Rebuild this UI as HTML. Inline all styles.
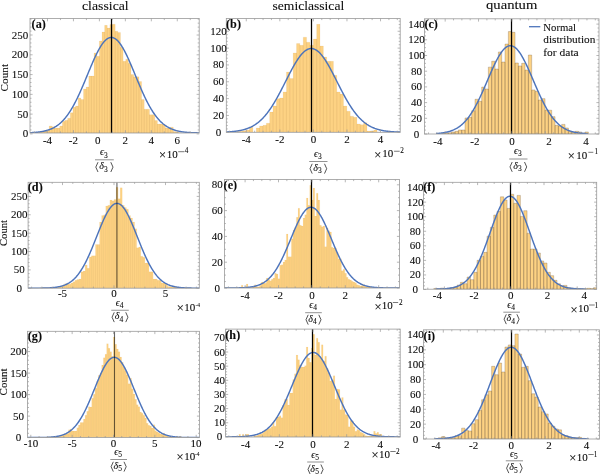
<!DOCTYPE html>
    <html><head><meta charset="utf-8"><style>
    html,body{margin:0;padding:0;background:#fff;}
    svg{display:block;filter:blur(0.3px);}
    text{font-family:"Liberation Serif", serif;fill:#0a0a0a;stroke:#0a0a0a;stroke-width:0.08px;}
    .tl{font-size:11px;}
    .pl{font-size:12.2px;font-weight:bold;}
    .ti{font-size:12.5px;}
    .eps{font-size:10px;font-style:italic;}
    .sb{font-size:7.5px;}
    .tm{font-size:12.5px;}
    .pw{font-size:11px;}
    .sp{font-size:7.2px;}
    .sps{font-size:5.5px;}
    .cnt{font-size:11px;}
    .lg{font-size:11px;}
    </style></head><body>
    <svg width="600" height="474" viewBox="0 0 600 474">
    <rect width="600" height="474" fill="#fff"/>
    <clipPath id="clipa"><rect x="30" y="18.5" width="169.2" height="114.5"/></clipPath>
<g clip-path="url(#clipa)">
<path d="M33.35 133V132.73H35.99V133ZM35.99 133V132.41H38.63V133ZM38.63 133V132.03H41.27V133ZM41.27 133V131.44H43.91V133ZM43.91 133V130.85H46.55V133ZM46.55 133V129.88H49.19V133ZM49.19 133V125.98H51.83V133ZM51.83 133V126.76H54.47V133ZM54.47 133V127.93H57.11V133ZM57.11 133V127.93H59.75V133ZM59.75 133V125.98H62.39V133ZM62.39 133V121.3H65.03V133ZM65.03 133V120.13H67.67V133ZM67.67 133V118.18H70.31V133ZM70.31 133V112.72H72.95V133ZM72.95 133V107.26H75.59V133ZM75.59 133V106.09H78.23V133ZM78.23 133V97.9H80.87V133ZM80.87 133V99.46H83.51V133ZM83.51 133V88.93H86.15V133ZM86.15 133V86.98H88.79V133ZM88.79 133V76.06H91.43V133ZM91.43 133V76.06H94.07V133ZM94.07 133V53.05H96.71V133ZM96.71 133V56.17H99.35V133ZM99.35 133V40.96H101.99V133ZM101.99 133V31.99H104.63V133ZM104.63 133V25.36H107.27V133ZM107.27 133V28.09H109.91V133ZM109.91 133V24.58H112.55V133ZM112.55 133V24.19H115.19V133ZM115.19 133V31.21H117.83V133ZM117.83 133V32.38H120.47V133ZM120.47 133V47.2H123.11V133ZM123.11 133V61.24H125.75V133ZM125.75 133V59.29H128.39V133ZM128.39 133V63.19H131.03V133ZM131.03 133V74.5H133.67V133ZM133.67 133V76.84H136.31V133ZM136.31 133V76.84H138.95V133ZM138.95 133V81.52H141.59V133ZM141.59 133V99.46H144.23V133ZM144.23 133V109.21H146.87V133ZM146.87 133V109.21H149.51V133ZM149.51 133V114.67H152.15V133ZM152.15 133V114.67H154.79V133ZM154.79 133V120.52H157.43V133ZM157.43 133V124.03H160.07V133ZM160.07 133V124.03H162.71V133ZM162.71 133V124.42H165.35V133ZM165.35 133V127.93H167.99V133ZM167.99 133V127.93H170.63V133ZM170.63 133V127.15H173.27V133ZM173.27 133V131.44H175.91V133ZM175.91 133V132.03H178.55V133ZM178.55 133V132.81H181.19V133Z" fill="#fdd283" stroke="rgba(160,120,70,0.15)" stroke-width="0.5"/>
<polyline points="30,132.7 30.5,132.68 31,132.65 31.5,132.63 32,132.6 32.5,132.57 33,132.54 33.5,132.51 34,132.48 34.5,132.44 35,132.4 35.5,132.36 36,132.32 36.5,132.27 37,132.22 37.5,132.17 38,132.12 38.5,132.06 39,132 39.5,131.93 40,131.86 40.5,131.79 41,131.71 41.5,131.63 42,131.55 42.5,131.46 43,131.36 43.5,131.26 44,131.16 44.5,131.05 45,130.93 45.5,130.81 46,130.68 46.5,130.54 47,130.4 47.5,130.25 48,130.1 48.5,129.93 49,129.76 49.5,129.58 50,129.39 50.5,129.19 51,128.99 51.5,128.77 52,128.55 52.5,128.31 53,128.06 53.5,127.81 54,127.54 54.5,127.26 55,126.97 55.5,126.67 56,126.36 56.5,126.03 57,125.69 57.5,125.34 58,124.97 58.5,124.59 59,124.2 59.5,123.79 60,123.37 60.5,122.93 61,122.47 61.5,122 62,121.52 62.5,121.02 63,120.5 63.5,119.96 64,119.41 64.5,118.84 65,118.26 65.5,117.65 66,117.03 66.5,116.39 67,115.73 67.5,115.06 68,114.36 68.5,113.65 69,112.92 69.5,112.17 70,111.4 70.5,110.62 71,109.81 71.5,108.99 72,108.14 72.5,107.28 73,106.4 73.5,105.51 74,104.59 74.5,103.66 75,102.71 75.5,101.74 76,100.76 76.5,99.76 77,98.74 77.5,97.71 78,96.66 78.5,95.6 79,94.52 79.5,93.43 80,92.33 80.5,91.21 81,90.08 81.5,88.95 82,87.8 82.5,86.64 83,85.47 83.5,84.29 84,83.11 84.5,81.92 85,80.72 85.5,79.52 86,78.31 86.5,77.11 87,75.9 87.5,74.69 88,73.48 88.5,72.27 89,71.06 89.5,69.86 90,68.66 90.5,67.47 91,66.29 91.5,65.11 92,63.94 92.5,62.79 93,61.64 93.5,60.51 94,59.39 94.5,58.29 95,57.21 95.5,56.14 96,55.09 96.5,54.06 97,53.05 97.5,52.07 98,51.11 98.5,50.17 99,49.26 99.5,48.37 100,47.52 100.5,46.69 101,45.89 101.5,45.12 102,44.39 102.5,43.69 103,43.02 103.5,42.39 104,41.79 104.5,41.23 105,40.7 105.5,40.21 106,39.76 106.5,39.35 107,38.98 107.5,38.65 108,38.35 108.5,38.1 109,37.89 109.5,37.72 110,37.59 110.5,37.5 111,37.46 111.5,37.45 112,37.49 112.5,37.57 113,37.69 113.5,37.85 114,38.06 114.5,38.3 115,38.58 115.5,38.91 116,39.27 116.5,39.68 117,40.12 117.5,40.6 118,41.12 118.5,41.67 119,42.26 119.5,42.89 120,43.55 120.5,44.25 121,44.98 121.5,45.74 122,46.53 122.5,47.35 123,48.2 123.5,49.08 124,49.98 124.5,50.92 125,51.87 125.5,52.85 126,53.86 126.5,54.88 127,55.93 127.5,56.99 128,58.07 128.5,59.17 129,60.29 129.5,61.42 130,62.56 130.5,63.71 131,64.88 131.5,66.05 132,67.24 132.5,68.43 133,69.62 133.5,70.82 134,72.03 134.5,73.24 135,74.45 135.5,75.66 136,76.86 136.5,78.07 137,79.28 137.5,80.48 138,81.68 138.5,82.87 139,84.05 139.5,85.23 140,86.4 140.5,87.56 141,88.72 141.5,89.86 142,90.99 142.5,92.11 143,93.21 143.5,94.31 144,95.38 144.5,96.45 145,97.5 145.5,98.54 146,99.56 146.5,100.56 147,101.55 147.5,102.52 148,103.47 148.5,104.41 149,105.32 149.5,106.23 150,107.11 150.5,107.97 151,108.82 151.5,109.65 152,110.46 152.5,111.25 153,112.02 153.5,112.77 154,113.51 154.5,114.22 155,114.92 155.5,115.6 156,116.26 156.5,116.91 157,117.53 157.5,118.14 158,118.73 158.5,119.3 159,119.86 159.5,120.39 160,120.92 160.5,121.42 161,121.91 161.5,122.38 162,122.84 162.5,123.28 163,123.71 163.5,124.12 164,124.51 164.5,124.9 165,125.27 165.5,125.62 166,125.96 166.5,126.29 167,126.61 167.5,126.91 168,127.21 168.5,127.49 169,127.76 169.5,128.01 170,128.26 170.5,128.5 171,128.73 171.5,128.94 172,129.15 172.5,129.35 173,129.54 173.5,129.72 174,129.9 174.5,130.06 175,130.22 175.5,130.37 176,130.52 176.5,130.65 177,130.78 177.5,130.91 178,131.02 178.5,131.14 179,131.24 179.5,131.34 180,131.44 180.5,131.53 181,131.62 181.5,131.7 182,131.78 182.5,131.85 183,131.92 183.5,131.98 184,132.05 184.5,132.11 185,132.16 185.5,132.21 186,132.26 186.5,132.31 187,132.35 187.5,132.4 188,132.43 188.5,132.47 189,132.51 189.5,132.54 190,132.57 190.5,132.6 191,132.62 191.5,132.65 192,132.67 192.5,132.7 193,132.72 193.5,132.74 194,132.75 194.5,132.77 195,132.79 195.5,132.8 196,132.82 196.5,132.83 197,132.84 197.5,132.85 198,132.86 198.5,132.87 199,132.88 199.5,132.89 199.7,132.89" fill="none" stroke="#4d74bb" stroke-width="1.45" stroke-linejoin="round"/>
<line x1="111.5" y1="18.5" x2="111.5" y2="133" stroke="#000" stroke-width="1.25"/>
</g>
<rect x="30" y="18.5" width="169.2" height="114.5" fill="none" stroke="#9a9a9a" stroke-width="0.8"/>
<path d="M34.5 133v-1.6M34.5 18.5v1.6M47.48 133v-2.8M47.48 18.5v2.8M60.46 133v-1.6M60.46 18.5v1.6M73.44 133v-2.8M73.44 18.5v2.8M86.42 133v-1.6M86.42 18.5v1.6M99.4 133v-2.8M99.4 18.5v2.8M112.38 133v-1.6M112.38 18.5v1.6M125.36 133v-2.8M125.36 18.5v2.8M138.34 133v-1.6M138.34 18.5v1.6M151.32 133v-2.8M151.32 18.5v2.8M164.3 133v-1.6M164.3 18.5v1.6M177.28 133v-2.8M177.28 18.5v2.8M190.26 133v-1.6M190.26 18.5v1.6M30 133.9h2.6M199.2 133.9h-2.6M30 129.94h1.5M199.2 129.94h-1.5M30 125.99h1.5M199.2 125.99h-1.5M30 122.04h1.5M199.2 122.04h-1.5M30 118.08h1.5M199.2 118.08h-1.5M30 114.12h2.6M199.2 114.12h-2.6M30 110.17h1.5M199.2 110.17h-1.5M30 106.22h1.5M199.2 106.22h-1.5M30 102.26h1.5M199.2 102.26h-1.5M30 98.31h1.5M199.2 98.31h-1.5M30 94.35h2.6M199.2 94.35h-2.6M30 90.4h1.5M199.2 90.4h-1.5M30 86.44h1.5M199.2 86.44h-1.5M30 82.49h1.5M199.2 82.49h-1.5M30 78.53h1.5M199.2 78.53h-1.5M30 74.58h2.6M199.2 74.58h-2.6M30 70.62h1.5M199.2 70.62h-1.5M30 66.67h1.5M199.2 66.67h-1.5M30 62.71h1.5M199.2 62.71h-1.5M30 58.75h1.5M199.2 58.75h-1.5M30 54.8h2.6M199.2 54.8h-2.6M30 50.84h1.5M199.2 50.84h-1.5M30 46.89h1.5M199.2 46.89h-1.5M30 42.94h1.5M199.2 42.94h-1.5M30 38.98h1.5M199.2 38.98h-1.5M30 35.03h2.6M199.2 35.03h-2.6M30 31.07h1.5M199.2 31.07h-1.5M30 27.11h1.5M199.2 27.11h-1.5M30 23.16h1.5M199.2 23.16h-1.5M30 19.2h1.5M199.2 19.2h-1.5" stroke="#9a9a9a" stroke-width="0.7" fill="none"/>
<text x="47.48" y="143.9" text-anchor="middle" class="tl">-4</text>
<text x="73.44" y="143.9" text-anchor="middle" class="tl">-2</text>
<text x="97.8" y="143.9" text-anchor="middle" class="tl">0</text>
<text x="125.36" y="143.9" text-anchor="middle" class="tl">2</text>
<text x="151.32" y="143.9" text-anchor="middle" class="tl">4</text>
<text x="177.28" y="143.9" text-anchor="middle" class="tl">6</text>
<text x="28.3" y="137.4" text-anchor="end" class="tl">0</text>
<text x="28.3" y="117.62" text-anchor="end" class="tl">50</text>
<text x="28.3" y="97.85" text-anchor="end" class="tl">100</text>
<text x="28.3" y="78.08" text-anchor="end" class="tl">150</text>
<text x="28.3" y="58.3" text-anchor="end" class="tl">200</text>
<text x="28.3" y="38.53" text-anchor="end" class="tl">250</text>
<text x="31.6" y="27.6" class="pl">(a)</text>
<text x="100.1" y="155.4" class="eps">ϵ</text>
<text x="104.1" y="157.5" class="sb">3</text>
<line x1="95" y1="159.8" x2="113.8" y2="159.8" stroke="#777" stroke-width="0.8"/>
<path d="M98 162.2L95.8 167.1L98 172M110.8 162.2L113 167.1L110.8 172" fill="none" stroke="#0a0a0a" stroke-width="0.7"/>
<text x="99.2" y="169.2" class="eps">δ</text>
<text x="104" y="171.5" class="sb">3</text>
<text x="162.5" y="158.76" text-anchor="middle" class="tm">×</text>
<text x="166.83" y="157.6" class="pw">10</text>
<line x1="178.2" y1="151.7" x2="184.3" y2="151.7" stroke="#0a0a0a" stroke-width="0.55"/>
<text x="184.66" y="153.1" class="sp">4</text>
<text transform="translate(8.4,77.7) rotate(-90)" text-anchor="middle" class="cnt" textLength="27.4" lengthAdjust="spacingAndGlyphs">Count</text>
<clipPath id="clipb"><rect x="226.3" y="18.5" width="173.9" height="113.8"/></clipPath>
<g clip-path="url(#clipb)">
<path d="M236.11 132.3V131.63H239.47V132.3ZM239.47 132.3V131.37H242.82V132.3ZM242.82 132.3V130.7H246.18V132.3ZM246.18 132.3V130.03H249.54V132.3ZM249.54 132.3V127.33H252.89V132.3ZM256.25 132.3V128.01H259.6V132.3ZM259.6 132.3V125.99H262.96V132.3ZM262.96 132.3V125.31H266.32V132.3ZM266.32 132.3V123.29H269.67V132.3ZM269.67 132.3V112.01H273.03V132.3ZM273.03 132.3V106.03H276.38V132.3ZM276.38 132.3V98.7H279.74V132.3ZM279.74 132.3V98.03H283.1V132.3ZM283.1 132.3V91.97H286.45V132.3ZM286.45 132.3V72.01H289.81V132.3ZM289.81 132.3V78.41H293.16V132.3ZM293.16 132.3V52.9H296.52V132.3ZM296.52 132.3V43.55H299.88V132.3ZM299.88 132.3V45.32H303.23V132.3ZM303.23 132.3V37.15H306.59V132.3ZM306.59 132.3V42.29H309.94V132.3ZM309.94 132.3V45.32H313.3V132.3ZM313.3 132.3V39.09H316.66V132.3ZM316.66 132.3V24.36H320.01V132.3ZM320.01 132.3V46H323.37V132.3ZM323.37 132.3V56.94H326.72V132.3ZM326.72 132.3V61.32H330.08V132.3ZM330.08 132.3V61.32H333.44V132.3ZM333.44 132.3V75.3H336.79V132.3ZM336.79 132.3V91.97H340.15V132.3ZM340.15 132.3V93.99H343.5V132.3ZM343.5 132.3V106.03H346.86V132.3ZM346.86 132.3V111.33H350.22V132.3ZM350.22 132.3V116.13H353.57V132.3ZM353.57 132.3V117.31H356.93V132.3ZM356.93 132.3V123.96H360.28V132.3ZM360.28 132.3V124.64H363.64V132.3ZM363.64 132.3V122.7H367V132.3ZM367 132.3V131.04H370.35V132.3ZM370.35 132.3V131.04H373.71V132.3ZM373.71 132.3V130.03H377.06V132.3ZM377.06 132.3V132.05H380.42V132.3Z" fill="#fdd283" stroke="rgba(160,120,70,0.15)" stroke-width="0.5"/>
<polyline points="226.3,131.95 226.8,131.93 227.3,131.9 227.8,131.87 228.3,131.85 228.8,131.82 229.3,131.79 229.8,131.75 230.3,131.72 230.8,131.68 231.3,131.64 231.8,131.6 232.3,131.56 232.8,131.51 233.3,131.47 233.8,131.42 234.3,131.36 234.8,131.31 235.3,131.25 235.8,131.18 236.3,131.12 236.8,131.05 237.3,130.98 237.8,130.9 238.3,130.82 238.8,130.74 239.3,130.65 239.8,130.56 240.3,130.46 240.8,130.36 241.3,130.25 241.8,130.14 242.3,130.03 242.8,129.9 243.3,129.78 243.8,129.64 244.3,129.5 244.8,129.36 245.3,129.21 245.8,129.05 246.3,128.89 246.8,128.71 247.3,128.53 247.8,128.35 248.3,128.15 248.8,127.95 249.3,127.74 249.8,127.52 250.3,127.3 250.8,127.06 251.3,126.82 251.8,126.56 252.3,126.3 252.8,126.03 253.3,125.74 253.8,125.45 254.3,125.14 254.8,124.83 255.3,124.5 255.8,124.17 256.3,123.82 256.8,123.46 257.3,123.09 257.8,122.71 258.3,122.31 258.8,121.91 259.3,121.49 259.8,121.05 260.3,120.61 260.8,120.15 261.3,119.68 261.8,119.19 262.3,118.69 262.8,118.18 263.3,117.66 263.8,117.12 264.3,116.56 264.8,116 265.3,115.41 265.8,114.82 266.3,114.21 266.8,113.58 267.3,112.95 267.8,112.29 268.3,111.63 268.8,110.95 269.3,110.25 269.8,109.54 270.3,108.82 270.8,108.08 271.3,107.33 271.8,106.57 272.3,105.79 272.8,105.01 273.3,104.2 273.8,103.39 274.3,102.56 274.8,101.72 275.3,100.87 275.8,100.01 276.3,99.13 276.8,98.25 277.3,97.35 277.8,96.45 278.3,95.53 278.8,94.61 279.3,93.68 279.8,92.74 280.3,91.79 280.8,90.84 281.3,89.88 281.8,88.91 282.3,87.94 282.8,86.96 283.3,85.98 283.8,85 284.3,84.01 284.8,83.02 285.3,82.03 285.8,81.04 286.3,80.05 286.8,79.07 287.3,78.08 287.8,77.1 288.3,76.12 288.8,75.14 289.3,74.17 289.8,73.2 290.3,72.25 290.8,71.3 291.3,70.35 291.8,69.42 292.3,68.5 292.8,67.59 293.3,66.69 293.8,65.8 294.3,64.93 294.8,64.07 295.3,63.22 295.8,62.4 296.3,61.59 296.8,60.79 297.3,60.02 297.8,59.26 298.3,58.53 298.8,57.81 299.3,57.12 299.8,56.45 300.3,55.8 300.8,55.18 301.3,54.58 301.8,54.01 302.3,53.46 302.8,52.94 303.3,52.44 303.8,51.98 304.3,51.54 304.8,51.12 305.3,50.74 305.8,50.39 306.3,50.06 306.8,49.77 307.3,49.51 307.8,49.27 308.3,49.07 308.8,48.9 309.3,48.76 309.8,48.65 310.3,48.58 310.8,48.53 311.3,48.52 311.8,48.54 312.3,48.59 312.8,48.67 313.3,48.79 313.8,48.93 314.3,49.11 314.8,49.32 315.3,49.56 315.8,49.83 316.3,50.13 316.8,50.46 317.3,50.82 317.8,51.2 318.3,51.62 318.8,52.07 319.3,52.54 319.8,53.04 320.3,53.57 320.8,54.12 321.3,54.7 321.8,55.3 322.3,55.93 322.8,56.58 323.3,57.26 323.8,57.96 324.3,58.67 324.8,59.41 325.3,60.17 325.8,60.95 326.3,61.75 326.8,62.56 327.3,63.39 327.8,64.24 328.3,65.1 328.8,65.98 329.3,66.87 329.8,67.77 330.3,68.68 330.8,69.61 331.3,70.54 331.8,71.49 332.3,72.44 332.8,73.4 333.3,74.36 333.8,75.33 334.3,76.31 334.8,77.29 335.3,78.28 335.8,79.26 336.3,80.25 336.8,81.24 337.3,82.23 337.8,83.22 338.3,84.21 338.8,85.19 339.3,86.18 339.8,87.16 340.3,88.13 340.8,89.1 341.3,90.07 341.8,91.03 342.3,91.98 342.8,92.93 343.3,93.87 343.8,94.8 344.3,95.72 344.8,96.63 345.3,97.53 345.8,98.43 346.3,99.31 346.8,100.18 347.3,101.04 347.8,101.89 348.3,102.73 348.8,103.55 349.3,104.36 349.8,105.16 350.3,105.95 350.8,106.73 351.3,107.49 351.8,108.23 352.3,108.97 352.8,109.69 353.3,110.39 353.8,111.08 354.3,111.76 354.8,112.43 355.3,113.07 355.8,113.71 356.3,114.33 356.8,114.94 357.3,115.53 357.8,116.11 358.3,116.67 358.8,117.23 359.3,117.76 359.8,118.29 360.3,118.79 360.8,119.29 361.3,119.77 361.8,120.24 362.3,120.7 362.8,121.14 363.3,121.57 363.8,121.99 364.3,122.39 364.8,122.79 365.3,123.17 365.8,123.53 366.3,123.89 366.8,124.24 367.3,124.57 367.8,124.89 368.3,125.21 368.8,125.51 369.3,125.8 369.8,126.08 370.3,126.35 370.8,126.61 371.3,126.87 371.8,127.11 372.3,127.34 372.8,127.57 373.3,127.78 373.8,127.99 374.3,128.19 374.8,128.39 375.3,128.57 375.8,128.75 376.3,128.92 376.8,129.08 377.3,129.24 377.8,129.39 378.3,129.53 378.8,129.67 379.3,129.8 379.8,129.93 380.3,130.05 380.8,130.16 381.3,130.27 381.8,130.38 382.3,130.48 382.8,130.58 383.3,130.67 383.8,130.75 384.3,130.84 384.8,130.92 385.3,130.99 385.8,131.06 386.3,131.13 386.8,131.2 387.3,131.26 387.8,131.32 388.3,131.37 388.8,131.43 389.3,131.48 389.8,131.52 390.3,131.57 390.8,131.61 391.3,131.65 391.8,131.69 392.3,131.73 392.8,131.76 393.3,131.79 393.8,131.82 394.3,131.85 394.8,131.88 395.3,131.91 395.8,131.93 396.3,131.95 396.8,131.97 397.3,132 397.8,132.01 398.3,132.03 398.8,132.05 399.3,132.07 399.8,132.08 400.3,132.1 400.7,132.11" fill="none" stroke="#4d74bb" stroke-width="1.45" stroke-linejoin="round"/>
<line x1="311.5" y1="18.5" x2="311.5" y2="132.3" stroke="#000" stroke-width="1.25"/>
</g>
<rect x="226.3" y="18.5" width="173.9" height="113.8" fill="none" stroke="#9a9a9a" stroke-width="0.8"/>
<path d="M229.5 132.3v-1.6M229.5 18.5v1.6M237.89 132.3v-1.6M237.89 18.5v1.6M246.28 132.3v-2.8M246.28 18.5v2.8M254.67 132.3v-1.6M254.67 18.5v1.6M263.06 132.3v-1.6M263.06 18.5v1.6M271.45 132.3v-1.6M271.45 18.5v1.6M279.84 132.3v-2.8M279.84 18.5v2.8M288.23 132.3v-1.6M288.23 18.5v1.6M296.62 132.3v-1.6M296.62 18.5v1.6M305.01 132.3v-1.6M305.01 18.5v1.6M313.4 132.3v-2.8M313.4 18.5v2.8M321.79 132.3v-1.6M321.79 18.5v1.6M330.18 132.3v-1.6M330.18 18.5v1.6M338.57 132.3v-1.6M338.57 18.5v1.6M346.96 132.3v-2.8M346.96 18.5v2.8M355.35 132.3v-1.6M355.35 18.5v1.6M363.74 132.3v-1.6M363.74 18.5v1.6M372.13 132.3v-1.6M372.13 18.5v1.6M380.52 132.3v-2.8M380.52 18.5v2.8M388.91 132.3v-1.6M388.91 18.5v1.6M397.3 132.3v-1.6M397.3 18.5v1.6M226.3 132.3h2.6M400.2 132.3h-2.6M226.3 128.93h1.5M400.2 128.93h-1.5M226.3 125.56h1.5M400.2 125.56h-1.5M226.3 122.2h1.5M400.2 122.2h-1.5M226.3 118.83h1.5M400.2 118.83h-1.5M226.3 115.46h2.6M400.2 115.46h-2.6M226.3 112.09h1.5M400.2 112.09h-1.5M226.3 108.72h1.5M400.2 108.72h-1.5M226.3 105.36h1.5M400.2 105.36h-1.5M226.3 101.99h1.5M400.2 101.99h-1.5M226.3 98.62h2.6M400.2 98.62h-2.6M226.3 95.25h1.5M400.2 95.25h-1.5M226.3 91.88h1.5M400.2 91.88h-1.5M226.3 88.52h1.5M400.2 88.52h-1.5M226.3 85.15h1.5M400.2 85.15h-1.5M226.3 81.78h2.6M400.2 81.78h-2.6M226.3 78.41h1.5M400.2 78.41h-1.5M226.3 75.04h1.5M400.2 75.04h-1.5M226.3 71.68h1.5M400.2 71.68h-1.5M226.3 68.31h1.5M400.2 68.31h-1.5M226.3 64.94h2.6M400.2 64.94h-2.6M226.3 61.57h1.5M400.2 61.57h-1.5M226.3 58.2h1.5M400.2 58.2h-1.5M226.3 54.84h1.5M400.2 54.84h-1.5M226.3 51.47h1.5M400.2 51.47h-1.5M226.3 48.1h2.6M400.2 48.1h-2.6M226.3 44.73h1.5M400.2 44.73h-1.5M226.3 41.36h1.5M400.2 41.36h-1.5M226.3 38h1.5M400.2 38h-1.5M226.3 34.63h1.5M400.2 34.63h-1.5M226.3 31.26h2.6M400.2 31.26h-2.6M226.3 27.89h1.5M400.2 27.89h-1.5M226.3 24.52h1.5M400.2 24.52h-1.5M226.3 21.16h1.5M400.2 21.16h-1.5" stroke="#9a9a9a" stroke-width="0.7" fill="none"/>
<text x="246.28" y="143.3" text-anchor="middle" class="tl">-4</text>
<text x="279.84" y="143.3" text-anchor="middle" class="tl">-2</text>
<text x="313.4" y="143.3" text-anchor="middle" class="tl">0</text>
<text x="346.96" y="143.3" text-anchor="middle" class="tl">2</text>
<text x="380.52" y="143.3" text-anchor="middle" class="tl">4</text>
<text x="218.5" y="135.8" text-anchor="middle" class="tl">0</text>
<text x="218.5" y="118.96" text-anchor="middle" class="tl">20</text>
<text x="218.5" y="102.12" text-anchor="middle" class="tl">40</text>
<text x="218.5" y="85.28" text-anchor="middle" class="tl">60</text>
<text x="218.5" y="68.44" text-anchor="middle" class="tl">80</text>
<text x="218.5" y="51.6" text-anchor="middle" class="tl">100</text>
<text x="218.5" y="34.76" text-anchor="middle" class="tl">120</text>
<text x="226.05" y="27.55" class="pl">(b)</text>
<text x="314.05" y="156.7" class="eps">ϵ</text>
<text x="318.05" y="158.8" class="sb">3</text>
<line x1="309.2" y1="161.5" x2="327.5" y2="161.5" stroke="#777" stroke-width="0.8"/>
<path d="M312.2 163.8L310 168.7L312.2 173.6M324.5 163.8L326.7 168.7L324.5 173.6" fill="none" stroke="#0a0a0a" stroke-width="0.7"/>
<text x="313.15" y="170.8" class="eps">δ</text>
<text x="317.95" y="173.1" class="sb">3</text>
<text x="377.9" y="158.51" text-anchor="middle" class="tm">×</text>
<text x="382.23" y="157.2" class="pw">10</text>
<line x1="394.05" y1="151.25" x2="399.7" y2="151.25" stroke="#0a0a0a" stroke-width="0.55"/>
<text x="400.28" y="152.7" class="sp">2</text>
<clipPath id="clipc"><rect x="424.5" y="18.8" width="174.5" height="115.2"/></clipPath>
<g clip-path="url(#clipc)">
<path d="M441.71 134V133.3H445.04V134ZM445.04 134V132.98H448.37V134ZM448.37 134V132.67H451.71V134ZM451.71 134V131.97H455.04V134ZM455.04 134V131.34H458.37V134ZM458.37 134V130.01H461.7V134ZM461.7 134V130.01H465.04V134ZM465.04 134V117.97H468.37V134ZM468.37 134V117.34H471.7V134ZM471.7 134V110.7H475.04V134ZM475.04 134V99.28H478.37V134ZM478.37 134V101.31H481.7V134ZM481.7 134V87.08H485.04V134ZM485.04 134V89.03H488.37V134ZM488.37 134V67.14H491.7V134ZM491.7 134V61.27H495.04V134ZM495.03 134V69.09H498.37V134ZM498.37 134V51.97H501.7V134ZM501.7 134V62.06H505.03V134ZM505.03 134V44.07H508.37V134ZM508.37 134V31.56H511.7V134ZM511.7 134V32.34H515.03V134ZM515.03 134V62.99H518.37V134ZM518.37 134V65.97H521.7V134ZM521.7 134V63.31H525.03V134ZM525.03 134V70.03H528.37V134ZM528.37 134V55.02H531.7V134ZM531.7 134V89.97H535.03V134ZM535.03 134V91.3H538.36V134ZM538.36 134V99.98H541.7V134ZM541.7 134V98.65H545.03V134ZM545.03 134V109.99H548.36V134ZM548.36 134V110.23H551.7V134ZM551.7 134V116.64H555.03V134ZM555.03 134V125.32H558.36V134ZM558.36 134V126.02H561.69V134ZM561.69 134V124.38H565.03V134ZM565.03 134V127.98H568.36V134ZM568.36 134V131.34H571.69V134ZM571.69 134V132.28H575.03V134ZM575.03 134V131.34H578.36V134ZM578.36 134V131.97H581.69V134ZM581.69 134V132.98H585.03V134ZM585.03 134V131.97H588.36V134Z" fill="#fdd283" stroke="rgba(110,90,70,0.5)" stroke-width="0.6"/>
<polyline points="436.05,133.54 436.55,133.5 437.05,133.47 437.55,133.43 438.05,133.39 438.55,133.35 439.05,133.3 439.55,133.25 440.05,133.2 440.55,133.14 441.05,133.09 441.55,133.02 442.05,132.96 442.55,132.89 443.05,132.81 443.55,132.74 444.05,132.65 444.55,132.57 445.05,132.47 445.55,132.38 446.05,132.27 446.55,132.16 447.05,132.05 447.55,131.93 448.05,131.8 448.55,131.67 449.05,131.53 449.55,131.38 450.05,131.23 450.55,131.06 451.05,130.89 451.55,130.71 452.05,130.52 452.55,130.33 453.05,130.12 453.55,129.9 454.05,129.68 454.55,129.44 455.05,129.19 455.55,128.94 456.05,128.67 456.55,128.39 457.05,128.09 457.55,127.79 458.05,127.47 458.55,127.14 459.05,126.79 459.55,126.43 460.05,126.06 460.55,125.67 461.05,125.27 461.55,124.85 462.05,124.42 462.55,123.97 463.05,123.51 463.55,123.03 464.05,122.53 464.55,122.02 465.05,121.49 465.55,120.94 466.05,120.38 466.55,119.79 467.05,119.19 467.55,118.57 468.05,117.94 468.55,117.28 469.05,116.61 469.55,115.91 470.05,115.2 470.55,114.47 471.05,113.72 471.55,112.96 472.05,112.17 472.55,111.37 473.05,110.54 473.55,109.7 474.05,108.84 474.55,107.96 475.05,107.07 475.55,106.16 476.05,105.22 476.55,104.28 477.05,103.31 477.55,102.33 478.05,101.34 478.55,100.32 479.05,99.3 479.55,98.26 480.05,97.2 480.55,96.14 481.05,95.06 481.55,93.96 482.05,92.86 482.55,91.75 483.05,90.63 483.55,89.49 484.05,88.35 484.55,87.21 485.05,86.06 485.55,84.9 486.05,83.74 486.55,82.57 487.05,81.41 487.55,80.24 488.05,79.07 488.55,77.91 489.05,76.75 489.55,75.59 490.05,74.43 490.55,73.28 491.05,72.14 491.55,71.01 492.05,69.89 492.55,68.77 493.05,67.67 493.55,66.59 494.05,65.52 494.55,64.46 495.05,63.42 495.55,62.4 496.05,61.4 496.55,60.42 497.05,59.47 497.55,58.53 498.05,57.62 498.55,56.74 499.05,55.88 499.55,55.06 500.05,54.26 500.55,53.49 501.05,52.75 501.55,52.04 502.05,51.37 502.55,50.73 503.05,50.13 503.55,49.56 504.05,49.03 504.55,48.54 505.05,48.08 505.55,47.66 506.05,47.29 506.55,46.95 507.05,46.65 507.55,46.39 508.05,46.17 508.55,46 509.05,45.86 509.55,45.77 510.05,45.72 510.55,45.71 511.05,45.75 511.55,45.82 512.05,45.94 512.55,46.1 513.05,46.3 513.55,46.54 514.05,46.82 514.55,47.15 515.05,47.51 515.55,47.91 516.05,48.35 516.55,48.83 517.05,49.34 517.55,49.9 518.05,50.49 518.55,51.11 519.05,51.77 519.55,52.46 520.05,53.19 520.55,53.94 521.05,54.73 521.55,55.55 522.05,56.39 522.55,57.27 523.05,58.17 523.55,59.09 524.05,60.04 524.55,61.01 525.05,62 525.55,63.01 526.05,64.04 526.55,65.09 527.05,66.16 527.55,67.24 528.05,68.33 528.55,69.44 529.05,70.56 529.55,71.69 530.05,72.83 530.55,73.97 531.05,75.12 531.55,76.28 532.05,77.44 532.55,78.61 533.05,79.77 533.55,80.94 534.05,82.11 534.55,83.27 535.05,84.44 535.55,85.59 536.05,86.75 536.55,87.9 537.05,89.04 537.55,90.17 538.05,91.3 538.55,92.42 539.05,93.52 539.55,94.62 540.05,95.7 540.55,96.78 541.05,97.84 541.55,98.88 542.05,99.92 542.55,100.93 543.05,101.94 543.55,102.92 544.05,103.89 544.55,104.85 545.05,105.78 545.55,106.71 546.05,107.61 546.55,108.49 547.05,109.36 547.55,110.21 548.05,111.04 548.55,111.85 549.05,112.65 549.55,113.42 550.05,114.18 550.55,114.91 551.05,115.63 551.55,116.33 552.05,117.01 552.55,117.68 553.05,118.32 553.55,118.95 554.05,119.56 554.55,120.15 555.05,120.72 555.55,121.27 556.05,121.81 556.55,122.33 557.05,122.83 557.55,123.32 558.05,123.79 558.55,124.24 559.05,124.68 559.55,125.11 560.05,125.51 560.55,125.91 561.05,126.29 561.55,126.65 562.05,127 562.55,127.34 563.05,127.66 563.55,127.97 564.05,128.27 564.55,128.56 565.05,128.83 565.55,129.09 566.05,129.34 566.55,129.58 567.05,129.82 567.55,130.04 568.05,130.25 568.55,130.45 569.05,130.64 569.55,130.82 570.05,131 570.55,131.16 571.05,131.32 571.55,131.47 572.05,131.61 572.55,131.75 573.05,131.88 573.55,132 574.05,132.12 574.55,132.23 575.05,132.34 575.55,132.44 576.05,132.53 576.55,132.62 577.05,132.7 577.55,132.78 578.05,132.86 578.55,132.93 579.05,133 579.55,133.06 580.05,133.12 580.55,133.18 581.05,133.23 581.55,133.28 582.05,133.33 582.55,133.37 583.05,133.41 583.55,133.45 584.05,133.49 584.55,133.52 585.05,133.56 585.55,133.59 586.05,133.62 586.55,133.64 587.05,133.67 587.55,133.69 587.93,133.71" fill="none" stroke="#4d74bb" stroke-width="1.45" stroke-linejoin="round"/>
<line x1="511.5" y1="18.8" x2="511.5" y2="134" stroke="#000" stroke-width="1.25"/>
</g>
<rect x="424.5" y="18.8" width="174.5" height="115.2" fill="none" stroke="#9a9a9a" stroke-width="0.8"/>
<path d="M428.5 134v-1.6M428.5 18.8v1.6M436.84 134v-1.6M436.84 18.8v1.6M445.18 134v-2.8M445.18 18.8v2.8M453.52 134v-1.6M453.52 18.8v1.6M461.86 134v-1.6M461.86 18.8v1.6M470.2 134v-1.6M470.2 18.8v1.6M478.54 134v-2.8M478.54 18.8v2.8M486.88 134v-1.6M486.88 18.8v1.6M495.22 134v-1.6M495.22 18.8v1.6M503.56 134v-1.6M503.56 18.8v1.6M511.9 134v-2.8M511.9 18.8v2.8M520.24 134v-1.6M520.24 18.8v1.6M528.58 134v-1.6M528.58 18.8v1.6M536.92 134v-1.6M536.92 18.8v1.6M545.26 134v-2.8M545.26 18.8v2.8M553.6 134v-1.6M553.6 18.8v1.6M561.94 134v-1.6M561.94 18.8v1.6M570.28 134v-1.6M570.28 18.8v1.6M578.62 134v-2.8M578.62 18.8v2.8M586.96 134v-1.6M586.96 18.8v1.6M595.3 134v-1.6M595.3 18.8v1.6M424.5 134h2.6M599 134h-2.6M424.5 130.07h1.5M599 130.07h-1.5M424.5 126.15h1.5M599 126.15h-1.5M424.5 122.22h1.5M599 122.22h-1.5M424.5 118.3h2.6M599 118.3h-2.6M424.5 114.38h1.5M599 114.38h-1.5M424.5 110.45h1.5M599 110.45h-1.5M424.5 106.53h1.5M599 106.53h-1.5M424.5 102.6h2.6M599 102.6h-2.6M424.5 98.67h1.5M599 98.67h-1.5M424.5 94.75h1.5M599 94.75h-1.5M424.5 90.82h1.5M599 90.82h-1.5M424.5 86.9h2.6M599 86.9h-2.6M424.5 82.97h1.5M599 82.97h-1.5M424.5 79.05h1.5M599 79.05h-1.5M424.5 75.12h1.5M599 75.12h-1.5M424.5 71.2h2.6M599 71.2h-2.6M424.5 67.27h1.5M599 67.27h-1.5M424.5 63.35h1.5M599 63.35h-1.5M424.5 59.42h1.5M599 59.42h-1.5M424.5 55.5h2.6M599 55.5h-2.6M424.5 51.58h1.5M599 51.58h-1.5M424.5 47.65h1.5M599 47.65h-1.5M424.5 43.72h1.5M599 43.72h-1.5M424.5 39.8h2.6M599 39.8h-2.6M424.5 35.88h1.5M599 35.88h-1.5M424.5 31.95h1.5M599 31.95h-1.5M424.5 28.02h1.5M599 28.02h-1.5M424.5 24.1h2.6M599 24.1h-2.6M424.5 20.17h1.5M599 20.17h-1.5" stroke="#9a9a9a" stroke-width="0.7" fill="none"/>
<text x="437.9" y="145.3" text-anchor="middle" class="tl">-4</text>
<text x="474.9" y="145.3" text-anchor="middle" class="tl">-2</text>
<text x="511.9" y="145.3" text-anchor="middle" class="tl">0</text>
<text x="548.9" y="145.3" text-anchor="middle" class="tl">2</text>
<text x="585.9" y="145.3" text-anchor="middle" class="tl">4</text>
<text x="416.5" y="137.5" text-anchor="middle" class="tl">0</text>
<text x="416.5" y="121.8" text-anchor="middle" class="tl">20</text>
<text x="416.5" y="106.1" text-anchor="middle" class="tl">40</text>
<text x="416.5" y="90.4" text-anchor="middle" class="tl">60</text>
<text x="416.5" y="74.7" text-anchor="middle" class="tl">80</text>
<text x="416.5" y="59" text-anchor="middle" class="tl">100</text>
<text x="416.5" y="43.3" text-anchor="middle" class="tl">120</text>
<text x="416.5" y="27.6" text-anchor="middle" class="tl">140</text>
<text x="424.4" y="27.8" class="pl">(c)</text>
<text x="514.05" y="154.2" class="eps">ϵ</text>
<text x="518.05" y="156.3" class="sb">3</text>
<line x1="509.2" y1="159" x2="527.5" y2="159" stroke="#777" stroke-width="0.8"/>
<path d="M512.2 162L510 166.9L512.2 171.8M524.5 162L526.7 166.9L524.5 171.8" fill="none" stroke="#0a0a0a" stroke-width="0.7"/>
<text x="513.15" y="169" class="eps">δ</text>
<text x="517.95" y="171.3" class="sb">3</text>
<text x="571.4" y="160.11" text-anchor="middle" class="tm">×</text>
<text x="576.33" y="158.7" class="pw">10</text>
<line x1="588.3" y1="152.3" x2="593.3" y2="152.3" stroke="#0a0a0a" stroke-width="0.55"/>
<text x="594.57" y="154" class="sp">1</text>
<clipPath id="clipd"><rect x="28.1" y="182.3" width="171.2" height="105.9"/></clipPath>
<g clip-path="url(#clipd)">
<path d="M39.84 288.2V287.84H41.9V288.2ZM41.9 288.2V287.84H43.96V288.2ZM43.96 288.2V287.84H46.02V288.2ZM46.02 288.2V287.84H48.08V288.2ZM48.08 288.2V287.84H50.14V288.2ZM50.14 288.2V287.65H52.2V288.2ZM52.2 288.2V287.65H54.26V288.2ZM54.26 288.2V287.65H56.32V288.2ZM56.32 288.2V287.29H58.38V288.2ZM58.38 288.2V287.11H60.44V288.2ZM60.44 288.2V286.74H62.5V288.2ZM62.5 288.2V286.02H64.56V288.2ZM64.56 288.2V283.83H66.62V288.2ZM66.62 288.2V283.47H68.68V288.2ZM68.68 288.2V284.2H70.74V288.2ZM70.74 288.2V283.1H72.8V288.2ZM72.8 288.2V281.65H74.86V288.2ZM74.86 288.2V280.19H76.92V288.2ZM76.92 288.2V279.46H78.98V288.2ZM78.98 288.2V279.1H81.04V288.2ZM81.04 288.2V271.82H83.1V288.2ZM83.1 288.2V271.09H85.16V288.2ZM85.16 288.2V264.9H87.22V288.2ZM87.22 288.2V268.18H89.28V288.2ZM89.28 288.2V256.9H91.34V288.2ZM91.34 288.2V255.8H93.4V288.2ZM93.4 288.2V255.8H95.46V288.2ZM95.46 288.2V244.52H97.52V288.2ZM97.52 288.2V244.52H99.58V288.2ZM99.58 288.2V221.95H101.64V288.2ZM101.64 288.2V215.4H103.7V288.2ZM103.7 288.2V214.67H105.76V288.2ZM105.76 288.2V205.94H107.82V288.2ZM107.82 288.2V205.21H109.88V288.2ZM109.88 288.2V200.11H111.94V288.2ZM111.94 288.2V200.84H114V288.2ZM114 288.2V199.38H116.06V288.2ZM116.06 288.2V187.37H118.12V288.2ZM118.12 288.2V198.66H120.18V288.2ZM120.18 288.2V187.74H122.24V288.2ZM122.24 288.2V205.21H124.3V288.2ZM124.3 288.2V207.39H126.36V288.2ZM126.36 288.2V209.21H128.42V288.2ZM128.42 288.2V215.4H130.48V288.2ZM130.48 288.2V217.95H132.54V288.2ZM132.54 288.2V221.95H134.6V288.2ZM134.6 288.2V228.87H136.66V288.2ZM136.66 288.2V247.8H138.72V288.2ZM138.72 288.2V247.07H140.78V288.2ZM140.78 288.2V256.17H142.84V288.2ZM142.84 288.2V257.26H144.9V288.2ZM144.9 288.2V263.08H146.96V288.2ZM146.96 288.2V263.08H149.02V288.2ZM149.02 288.2V271.82H151.08V288.2ZM151.08 288.2V271.82H153.14V288.2ZM153.14 288.2V279.1H155.2V288.2ZM155.2 288.2V279.1H157.26V288.2ZM157.26 288.2V280.19H159.32V288.2ZM159.32 288.2V280.19H161.38V288.2ZM161.38 288.2V283.1H163.44V288.2ZM163.44 288.2V283.1H165.5V288.2ZM165.5 288.2V283.83H167.56V288.2ZM167.56 288.2V286.38H169.62V288.2ZM169.62 288.2V286.38H171.68V288.2ZM171.68 288.2V286.74H173.74V288.2ZM173.74 288.2V286.74H175.8V288.2ZM175.8 288.2V287.11H177.86V288.2ZM177.86 288.2V287.47H179.92V288.2ZM179.92 288.2V287.84H181.98V288.2ZM181.98 288.2V287.84H184.04V288.2ZM184.04 288.2V287.84H186.1V288.2ZM186.1 288.2V287.84H188.16V288.2ZM188.16 288.2V287.84H190.22V288.2ZM190.22 288.2V287.84H192.28V288.2Z" fill="#fdd283" stroke="rgba(160,120,70,0.08)" stroke-width="0.5"/>
<polyline points="28.1,288.19 28.6,288.19 29.1,288.19 29.6,288.19 30.1,288.19 30.6,288.19 31.1,288.19 31.6,288.19 32.1,288.19 32.6,288.18 33.1,288.18 33.6,288.18 34.1,288.18 34.6,288.18 35.1,288.17 35.6,288.17 36.1,288.17 36.6,288.17 37.1,288.16 37.6,288.16 38.1,288.15 38.6,288.15 39.1,288.14 39.6,288.14 40.1,288.13 40.6,288.13 41.1,288.12 41.6,288.11 42.1,288.1 42.6,288.09 43.1,288.08 43.6,288.07 44.1,288.06 44.6,288.05 45.1,288.03 45.6,288.02 46.1,288 46.6,287.99 47.1,287.97 47.6,287.95 48.1,287.92 48.6,287.9 49.1,287.87 49.6,287.85 50.1,287.82 50.6,287.78 51.1,287.75 51.6,287.71 52.1,287.67 52.6,287.63 53.1,287.58 53.6,287.54 54.1,287.48 54.6,287.43 55.1,287.37 55.6,287.3 56.1,287.23 56.6,287.16 57.1,287.08 57.6,287 58.1,286.91 58.6,286.81 59.1,286.71 59.6,286.61 60.1,286.49 60.6,286.37 61.1,286.24 61.6,286.11 62.1,285.96 62.6,285.81 63.1,285.65 63.6,285.48 64.1,285.3 64.6,285.11 65.1,284.91 65.6,284.69 66.1,284.47 66.6,284.24 67.1,283.99 67.6,283.73 68.1,283.45 68.6,283.17 69.1,282.87 69.6,282.55 70.1,282.22 70.6,281.87 71.1,281.51 71.6,281.13 72.1,280.74 72.6,280.32 73.1,279.89 73.6,279.44 74.1,278.97 74.6,278.49 75.1,277.98 75.6,277.45 76.1,276.91 76.6,276.34 77.1,275.75 77.6,275.14 78.1,274.51 78.6,273.85 79.1,273.18 79.6,272.48 80.1,271.76 80.6,271.02 81.1,270.25 81.6,269.46 82.1,268.65 82.6,267.82 83.1,266.96 83.6,266.08 84.1,265.18 84.6,264.25 85.1,263.3 85.6,262.33 86.1,261.34 86.6,260.33 87.1,259.3 87.6,258.25 88.1,257.18 88.6,256.08 89.1,254.98 89.6,253.85 90.1,252.71 90.6,251.55 91.1,250.37 91.6,249.18 92.1,247.98 92.6,246.77 93.1,245.54 93.6,244.31 94.1,243.07 94.6,241.82 95.1,240.56 95.6,239.3 96.1,238.04 96.6,236.78 97.1,235.51 97.6,234.25 98.1,232.99 98.6,231.74 99.1,230.49 99.6,229.25 100.1,228.02 100.6,226.8 101.1,225.59 101.6,224.4 102.1,223.23 102.6,222.07 103.1,220.93 103.6,219.82 104.1,218.73 104.6,217.66 105.1,216.62 105.6,215.61 106.1,214.63 106.6,213.68 107.1,212.77 107.6,211.89 108.1,211.05 108.6,210.24 109.1,209.47 109.6,208.75 110.1,208.06 110.6,207.42 111.1,206.82 111.6,206.27 112.1,205.76 112.6,205.31 113.1,204.89 113.6,204.53 114.1,204.22 114.6,203.95 115.1,203.74 115.6,203.57 116.1,203.46 116.6,203.4 117.1,203.39 117.6,203.43 118.1,203.52 118.6,203.67 119.1,203.86 119.6,204.1 120.1,204.4 120.6,204.74 121.1,205.13 121.6,205.58 122.1,206.06 122.6,206.6 123.1,207.18 123.6,207.8 124.1,208.47 124.6,209.18 125.1,209.93 125.6,210.72 126.1,211.55 126.6,212.41 127.1,213.31 127.6,214.25 128.1,215.22 128.6,216.22 129.1,217.24 129.6,218.3 130.1,219.38 130.6,220.48 131.1,221.61 131.6,222.76 132.1,223.93 132.6,225.11 133.1,226.31 133.6,227.53 134.1,228.75 134.6,229.99 135.1,231.24 135.6,232.49 136.1,233.75 136.6,235.01 137.1,236.27 137.6,237.54 138.1,238.8 138.6,240.06 139.1,241.32 139.6,242.57 140.1,243.81 140.6,245.05 141.1,246.28 141.6,247.5 142.1,248.7 142.6,249.9 143.1,251.08 143.6,252.24 144.1,253.39 144.6,254.53 145.1,255.64 145.6,256.74 146.1,257.82 146.6,258.88 147.1,259.92 147.6,260.94 148.1,261.94 148.6,262.92 149.1,263.87 149.6,264.81 150.1,265.72 150.6,266.61 151.1,267.48 151.6,268.32 152.1,269.14 152.6,269.94 153.1,270.71 153.6,271.47 154.1,272.2 154.6,272.9 155.1,273.59 155.6,274.25 156.1,274.89 156.6,275.51 157.1,276.11 157.6,276.68 158.1,277.24 158.6,277.77 159.1,278.29 159.6,278.78 160.1,279.26 160.6,279.71 161.1,280.15 161.6,280.57 162.1,280.98 162.6,281.36 163.1,281.73 163.6,282.08 164.1,282.42 164.6,282.74 165.1,283.05 165.6,283.34 166.1,283.62 166.6,283.89 167.1,284.14 167.6,284.38 168.1,284.61 168.6,284.82 169.1,285.03 169.6,285.22 170.1,285.41 170.6,285.58 171.1,285.75 171.6,285.9 172.1,286.05 172.6,286.19 173.1,286.32 173.6,286.44 174.1,286.56 174.6,286.67 175.1,286.77 175.6,286.87 176.1,286.96 176.6,287.05 177.1,287.13 177.6,287.2 178.1,287.27 178.6,287.34 179.1,287.4 179.6,287.46 180.1,287.51 180.6,287.57 181.1,287.61 181.6,287.66 182.1,287.7 182.6,287.74 183.1,287.77 183.6,287.8 184.1,287.83 184.6,287.86 185.1,287.89 185.6,287.91 186.1,287.94 186.6,287.96 187.1,287.98 187.6,288 188.1,288.01 188.6,288.03 189.1,288.04 189.6,288.06 190.1,288.07 190.6,288.08 191.1,288.09 191.6,288.1 192.1,288.11 192.6,288.12 193.1,288.12 193.6,288.13 194.1,288.14 194.6,288.14 195.1,288.15 195.6,288.15 196.1,288.16 196.6,288.16 197.1,288.16 197.6,288.17 198.1,288.17 198.6,288.17 199.1,288.18 199.6,288.18 199.8,288.18" fill="none" stroke="#4d74bb" stroke-width="1.45" stroke-linejoin="round"/>
<line x1="116.9" y1="182.3" x2="116.9" y2="288.2" stroke="rgba(0,0,0,0.45)" stroke-width="1.5"/>
</g>
<rect x="28.1" y="182.3" width="171.2" height="105.9" fill="none" stroke="#9a9a9a" stroke-width="0.8"/>
<path d="M31.6 288.2v-1.6M31.6 182.3v1.6M41.9 288.2v-1.6M41.9 182.3v1.6M52.2 288.2v-1.6M52.2 182.3v1.6M62.5 288.2v-2.8M62.5 182.3v2.8M72.8 288.2v-1.6M72.8 182.3v1.6M83.1 288.2v-1.6M83.1 182.3v1.6M93.4 288.2v-1.6M93.4 182.3v1.6M103.7 288.2v-1.6M103.7 182.3v1.6M114 288.2v-2.8M114 182.3v2.8M124.3 288.2v-1.6M124.3 182.3v1.6M134.6 288.2v-1.6M134.6 182.3v1.6M144.9 288.2v-1.6M144.9 182.3v1.6M155.2 288.2v-1.6M155.2 182.3v1.6M165.5 288.2v-2.8M165.5 182.3v2.8M175.8 288.2v-1.6M175.8 182.3v1.6M186.1 288.2v-1.6M186.1 182.3v1.6M196.4 288.2v-1.6M196.4 182.3v1.6M28.1 288.3h2.6M199.3 288.3h-2.6M28.1 284.62h1.5M199.3 284.62h-1.5M28.1 280.95h1.5M199.3 280.95h-1.5M28.1 277.27h1.5M199.3 277.27h-1.5M28.1 273.6h1.5M199.3 273.6h-1.5M28.1 269.92h2.6M199.3 269.92h-2.6M28.1 266.24h1.5M199.3 266.24h-1.5M28.1 262.57h1.5M199.3 262.57h-1.5M28.1 258.89h1.5M199.3 258.89h-1.5M28.1 255.22h1.5M199.3 255.22h-1.5M28.1 251.54h2.6M199.3 251.54h-2.6M28.1 247.86h1.5M199.3 247.86h-1.5M28.1 244.19h1.5M199.3 244.19h-1.5M28.1 240.51h1.5M199.3 240.51h-1.5M28.1 236.84h1.5M199.3 236.84h-1.5M28.1 233.16h2.6M199.3 233.16h-2.6M28.1 229.48h1.5M199.3 229.48h-1.5M28.1 225.81h1.5M199.3 225.81h-1.5M28.1 222.13h1.5M199.3 222.13h-1.5M28.1 218.46h1.5M199.3 218.46h-1.5M28.1 214.78h2.6M199.3 214.78h-2.6M28.1 211.1h1.5M199.3 211.1h-1.5M28.1 207.43h1.5M199.3 207.43h-1.5M28.1 203.75h1.5M199.3 203.75h-1.5M28.1 200.08h1.5M199.3 200.08h-1.5M28.1 196.4h2.6M199.3 196.4h-2.6M28.1 192.72h1.5M199.3 192.72h-1.5M28.1 189.05h1.5M199.3 189.05h-1.5M28.1 185.37h1.5M199.3 185.37h-1.5" stroke="#9a9a9a" stroke-width="0.7" fill="none"/>
<text x="62.5" y="297.4" text-anchor="middle" class="tl">-5</text>
<text x="114" y="297.4" text-anchor="middle" class="tl">0</text>
<text x="165.5" y="297.4" text-anchor="middle" class="tl">5</text>
<text x="19.2" y="291.8" text-anchor="middle" class="tl">0</text>
<text x="19.2" y="273.42" text-anchor="middle" class="tl">50</text>
<text x="19.2" y="255.04" text-anchor="middle" class="tl">100</text>
<text x="19.2" y="236.66" text-anchor="middle" class="tl">150</text>
<text x="19.2" y="218.28" text-anchor="middle" class="tl">200</text>
<text x="19.2" y="199.9" text-anchor="middle" class="tl">250</text>
<text x="27.8" y="191.3" class="pl">(d)</text>
<text x="115.7" y="305.8" class="eps">ϵ</text>
<text x="119.7" y="307.9" class="sb">4</text>
<line x1="111.25" y1="310.25" x2="128.75" y2="310.25" stroke="#777" stroke-width="0.8"/>
<path d="M114.25 312.3L112.05 317.2L114.25 322.1M125.75 312.3L127.95 317.2L125.75 322.1" fill="none" stroke="#0a0a0a" stroke-width="0.7"/>
<text x="114.8" y="319.3" class="eps">δ</text>
<text x="119.6" y="321.6" class="sb">4</text>
<text x="180.25" y="312.16" text-anchor="middle" class="tm">×</text>
<text x="184.33" y="310.7" class="pw">10</text>
<text x="195.5" y="306.5" class="sps">-4</text>
<text transform="translate(7.4,233) rotate(-90)" text-anchor="middle" class="cnt" textLength="25.9" lengthAdjust="spacingAndGlyphs">Count</text>
<clipPath id="clipe"><rect x="224.4" y="179.5" width="175.1" height="108.5"/></clipPath>
<g clip-path="url(#clipe)">
<path d="M241.26 288V285.29H242.93V288ZM242.93 288V287.36H244.6V288ZM244.6 288V286.71H246.27V288ZM246.27 288V284H247.94V288ZM247.94 288V287.36H249.61V288ZM249.61 288V287.36H251.28V288ZM251.28 288V287.36H252.95V288ZM252.95 288V286.71H254.62V288ZM254.62 288V284.65H256.29V288ZM256.29 288V286.71H257.96V288ZM257.96 288V286.71H259.63V288ZM259.63 288V285.29H261.3V288ZM261.3 288V281.94H262.97V288ZM262.97 288V282.71H264.64V288ZM264.64 288V283.36H266.31V288ZM266.31 288V277.94H267.98V288ZM267.98 288V279.36H269.65V288ZM269.65 288V280.65H271.32V288ZM271.32 288V279.36H272.99V288ZM272.99 288V277.94H274.66V288ZM274.66 288V273.29H276.33V288ZM276.33 288V273.94H278V288ZM278 288V278.71H279.67V288ZM279.67 288V265.3H281.34V288ZM281.34 288V264.65H283.01V288ZM283.01 288V261.94H284.68V288ZM284.68 288V260.01H286.35V288ZM286.35 288V233.95H288.02V288ZM288.02 288V256.65H289.69V288ZM289.69 288V256.65H291.36V288ZM291.36 288V238.72H293.03V288ZM293.03 288V229.95H294.7V288ZM294.7 288V227.37H296.37V288ZM296.37 288V217.31H298.04V288ZM298.04 288V208.28H299.71V288ZM299.71 288V225.31H301.38V288ZM301.38 288V226.08H303.05V288ZM303.05 288V217.95H304.72V288ZM304.72 288V214.73H306.39V288ZM306.39 288V197.96H308.06V288ZM308.06 288V205.31H309.73V288ZM309.73 288V185.32H311.4V288ZM311.4 288V200.02H313.07V288ZM313.07 288V188.02H314.74V288ZM314.74 288V216.02H316.41V288ZM316.41 288V193.31H318.08V288ZM318.08 288V200.02H319.75V288ZM319.75 288V225.31H321.42V288ZM321.42 288V226.72H323.09V288ZM323.09 288V226.08H324.76V288ZM324.76 288V246.72H326.43V288ZM326.43 288V228.01H328.1V288ZM328.1 288V230.72H329.77V288ZM329.77 288V232.01H331.44V288ZM331.44 288V247.37H333.11V288ZM333.11 288V248.01H334.78V288ZM334.78 288V248.01H336.45V288ZM336.45 288V252.01H338.12V288ZM338.12 288V258.72H339.79V288ZM339.79 288V258.72H341.46V288ZM341.46 288V270.71H343.13V288ZM343.13 288V269.3H344.8V288ZM344.8 288V273.29H346.47V288ZM346.47 288V277.29H348.14V288ZM348.14 288V279.36H349.81V288ZM349.81 288V280H351.48V288ZM351.48 288V281.29H353.15V288ZM353.15 288V281.94H354.82V288ZM354.82 288V282.71H356.49V288ZM356.49 288V284.65H358.16V288ZM358.16 288V285.29H359.83V288ZM359.83 288V285.94H361.5V288ZM361.5 288V285.29H363.17V288ZM363.17 288V284.65H364.84V288ZM364.84 288V286.45H366.51V288ZM366.51 288V286.71H368.18V288ZM368.18 288V286.71H369.85V288ZM369.85 288V286.97H371.52V288Z" fill="#fdd283" stroke="rgba(160,120,70,0.08)" stroke-width="0.5"/>
<polyline points="224.4,287.99 224.9,287.99 225.4,287.99 225.9,287.99 226.4,287.99 226.9,287.98 227.4,287.98 227.9,287.98 228.4,287.98 228.9,287.98 229.4,287.97 229.9,287.97 230.4,287.97 230.9,287.97 231.4,287.96 231.9,287.96 232.4,287.95 232.9,287.95 233.4,287.94 233.9,287.94 234.4,287.93 234.9,287.93 235.4,287.92 235.9,287.91 236.4,287.9 236.9,287.89 237.4,287.89 237.9,287.87 238.4,287.86 238.9,287.85 239.4,287.84 239.9,287.82 240.4,287.81 240.9,287.79 241.4,287.77 241.9,287.75 242.4,287.73 242.9,287.71 243.4,287.68 243.9,287.65 244.4,287.62 244.9,287.59 245.4,287.56 245.9,287.52 246.4,287.48 246.9,287.44 247.4,287.4 247.9,287.35 248.4,287.3 248.9,287.24 249.4,287.18 249.9,287.12 250.4,287.05 250.9,286.98 251.4,286.9 251.9,286.82 252.4,286.74 252.9,286.64 253.4,286.55 253.9,286.44 254.4,286.33 254.9,286.21 255.4,286.09 255.9,285.95 256.4,285.81 256.9,285.67 257.4,285.51 257.9,285.34 258.4,285.17 258.9,284.98 259.4,284.79 259.9,284.58 260.4,284.36 260.9,284.13 261.4,283.89 261.9,283.64 262.4,283.38 262.9,283.1 263.4,282.81 263.9,282.5 264.4,282.18 264.9,281.84 265.4,281.49 265.9,281.13 266.4,280.74 266.9,280.34 267.4,279.92 267.9,279.49 268.4,279.04 268.9,278.57 269.4,278.08 269.9,277.57 270.4,277.04 270.9,276.49 271.4,275.92 271.9,275.33 272.4,274.72 272.9,274.09 273.4,273.44 273.9,272.77 274.4,272.07 274.9,271.35 275.4,270.62 275.9,269.86 276.4,269.08 276.9,268.27 277.4,267.45 277.9,266.6 278.4,265.73 278.9,264.84 279.4,263.93 279.9,263 280.4,262.05 280.9,261.08 281.4,260.09 281.9,259.08 282.4,258.05 282.9,257.01 283.4,255.94 283.9,254.86 284.4,253.77 284.9,252.66 285.4,251.54 285.9,250.4 286.4,249.25 286.9,248.09 287.4,246.92 287.9,245.74 288.4,244.56 288.9,243.37 289.4,242.17 289.9,240.97 290.4,239.77 290.9,238.56 291.4,237.36 291.9,236.16 292.4,234.96 292.9,233.77 293.4,232.58 293.9,231.4 294.4,230.23 294.9,229.08 295.4,227.94 295.9,226.81 296.4,225.7 296.9,224.6 297.4,223.53 297.9,222.47 298.4,221.45 298.9,220.44 299.4,219.46 299.9,218.51 300.4,217.59 300.9,216.7 301.4,215.84 301.9,215.02 302.4,214.23 302.9,213.47 303.4,212.76 303.9,212.08 304.4,211.45 304.9,210.85 305.4,210.3 305.9,209.79 306.4,209.33 306.9,208.91 307.4,208.54 307.9,208.21 308.4,207.93 308.9,207.7 309.4,207.51 309.9,207.37 310.4,207.29 310.9,207.25 311.4,207.26 311.9,207.32 312.4,207.42 312.9,207.58 313.4,207.78 313.9,208.03 314.4,208.33 314.9,208.68 315.4,209.07 315.9,209.51 316.4,209.99 316.9,210.52 317.4,211.09 317.9,211.7 318.4,212.35 318.9,213.04 319.4,213.77 319.9,214.54 320.4,215.34 320.9,216.18 321.4,217.05 321.9,217.95 322.4,218.89 322.9,219.85 323.4,220.84 323.9,221.85 324.4,222.89 324.9,223.95 325.4,225.04 325.9,226.14 326.4,227.26 326.9,228.39 327.4,229.54 327.9,230.7 328.4,231.87 328.9,233.05 329.4,234.24 329.9,235.44 330.4,236.64 330.9,237.84 331.4,239.04 331.9,240.25 332.4,241.45 332.9,242.65 333.4,243.84 333.9,245.03 334.4,246.22 334.9,247.39 335.4,248.56 335.9,249.71 336.4,250.86 336.9,251.99 337.4,253.11 337.9,254.21 338.4,255.3 338.9,256.37 339.4,257.43 339.9,258.47 340.4,259.49 340.9,260.49 341.4,261.47 341.9,262.43 342.4,263.38 342.9,264.3 343.4,265.2 343.9,266.08 344.4,266.94 344.9,267.78 345.4,268.6 345.9,269.39 346.4,270.16 346.9,270.91 347.4,271.64 347.9,272.35 348.4,273.04 348.9,273.7 349.4,274.35 349.9,274.97 350.4,275.57 350.9,276.15 351.4,276.71 351.9,277.25 352.4,277.77 352.9,278.27 353.4,278.76 353.9,279.22 354.4,279.67 354.9,280.09 355.4,280.5 355.9,280.9 356.4,281.27 356.9,281.63 357.4,281.98 357.9,282.31 358.4,282.62 358.9,282.92 359.4,283.21 359.9,283.48 360.4,283.74 360.9,283.99 361.4,284.23 361.9,284.45 362.4,284.66 362.9,284.87 363.4,285.06 363.9,285.24 364.4,285.41 364.9,285.57 365.4,285.73 365.9,285.87 366.4,286.01 366.9,286.14 367.4,286.26 367.9,286.37 368.4,286.48 368.9,286.59 369.4,286.68 369.9,286.77 370.4,286.86 370.9,286.94 371.4,287.01 371.9,287.08 372.4,287.15 372.9,287.21 373.4,287.26 373.9,287.32 374.4,287.37 374.9,287.41 375.4,287.46 375.9,287.5 376.4,287.54 376.9,287.57 377.4,287.6 377.9,287.64 378.4,287.66 378.9,287.69 379.4,287.71 379.9,287.74 380.4,287.76 380.9,287.78 381.4,287.8 381.9,287.81 382.4,287.83 382.9,287.84 383.4,287.86 383.9,287.87 384.4,287.88 384.9,287.89 385.4,287.9 385.9,287.91 386.4,287.92 386.9,287.92 387.4,287.93 387.9,287.94 388.4,287.94 388.9,287.95 389.4,287.95 389.9,287.96 390.4,287.96 390.9,287.96 391.4,287.97 391.9,287.97 392.4,287.97 392.9,287.98 393.4,287.98 393.9,287.98 394.4,287.98 394.9,287.98 395.4,287.99 395.9,287.99 396.4,287.99 396.9,287.99 397.4,287.99 397.9,287.99 398.4,287.99 398.9,287.99 399.4,287.99 399.9,287.99 400,287.99" fill="none" stroke="#4d74bb" stroke-width="1.45" stroke-linejoin="round"/>
<line x1="311.5" y1="179.5" x2="311.5" y2="288" stroke="#000" stroke-width="1.25"/>
</g>
<rect x="224.4" y="179.5" width="175.1" height="108.5" fill="none" stroke="#9a9a9a" stroke-width="0.8"/>
<path d="M228.4 288v-1.6M228.4 179.5v1.6M236.75 288v-1.6M236.75 179.5v1.6M245.1 288v-2.8M245.1 179.5v2.8M253.45 288v-1.6M253.45 179.5v1.6M261.8 288v-1.6M261.8 179.5v1.6M270.15 288v-1.6M270.15 179.5v1.6M278.5 288v-2.8M278.5 179.5v2.8M286.85 288v-1.6M286.85 179.5v1.6M295.2 288v-1.6M295.2 179.5v1.6M303.55 288v-1.6M303.55 179.5v1.6M311.9 288v-2.8M311.9 179.5v2.8M320.25 288v-1.6M320.25 179.5v1.6M328.6 288v-1.6M328.6 179.5v1.6M336.95 288v-1.6M336.95 179.5v1.6M345.3 288v-2.8M345.3 179.5v2.8M353.65 288v-1.6M353.65 179.5v1.6M362 288v-1.6M362 179.5v1.6M370.35 288v-1.6M370.35 179.5v1.6M378.7 288v-2.8M378.7 179.5v2.8M387.05 288v-1.6M387.05 179.5v1.6M395.4 288v-1.6M395.4 179.5v1.6M224.4 288h2.6M399.5 288h-2.6M224.4 281.55h1.5M399.5 281.55h-1.5M224.4 275.1h1.5M399.5 275.1h-1.5M224.4 268.65h1.5M399.5 268.65h-1.5M224.4 262.2h2.6M399.5 262.2h-2.6M224.4 255.75h1.5M399.5 255.75h-1.5M224.4 249.3h1.5M399.5 249.3h-1.5M224.4 242.85h1.5M399.5 242.85h-1.5M224.4 236.4h2.6M399.5 236.4h-2.6M224.4 229.95h1.5M399.5 229.95h-1.5M224.4 223.5h1.5M399.5 223.5h-1.5M224.4 217.05h1.5M399.5 217.05h-1.5M224.4 210.6h2.6M399.5 210.6h-2.6M224.4 204.15h1.5M399.5 204.15h-1.5M224.4 197.7h1.5M399.5 197.7h-1.5M224.4 191.25h1.5M399.5 191.25h-1.5M224.4 184.8h2.6M399.5 184.8h-2.6" stroke="#9a9a9a" stroke-width="0.7" fill="none"/>
<text x="245.1" y="298.8" text-anchor="middle" class="tl">-4</text>
<text x="278.5" y="298.8" text-anchor="middle" class="tl">-2</text>
<text x="311.9" y="298.8" text-anchor="middle" class="tl">0</text>
<text x="345.3" y="298.8" text-anchor="middle" class="tl">2</text>
<text x="378.7" y="298.8" text-anchor="middle" class="tl">4</text>
<text x="217.2" y="291.5" text-anchor="middle" class="tl">0</text>
<text x="217.2" y="265.7" text-anchor="middle" class="tl">20</text>
<text x="217.2" y="239.9" text-anchor="middle" class="tl">40</text>
<text x="217.2" y="214.1" text-anchor="middle" class="tl">60</text>
<text x="217.2" y="188.3" text-anchor="middle" class="tl">80</text>
<text x="223.6" y="189" class="pl">(e)</text>
<text x="309.2" y="308.2" class="eps">ϵ</text>
<text x="313.2" y="310.3" class="sb">4</text>
<line x1="305.2" y1="312.7" x2="321.8" y2="312.7" stroke="#777" stroke-width="0.8"/>
<path d="M308.2 314.8L306 319.7L308.2 324.6M318.8 314.8L321 319.7L318.8 324.6" fill="none" stroke="#0a0a0a" stroke-width="0.7"/>
<text x="308.3" y="321.8" class="eps">δ</text>
<text x="313.1" y="324.1" class="sb">4</text>
<text x="378.1" y="310.63" text-anchor="middle" class="tm">×</text>
<text x="381.83" y="309.3" class="pw">10</text>
<line x1="392.8" y1="302.5" x2="398.2" y2="302.5" stroke="#0a0a0a" stroke-width="0.55"/>
<text x="398.88" y="304.8" class="sp">2</text>
<clipPath id="clipf"><rect x="423.5" y="182.3" width="173.2" height="106.9"/></clipPath>
<g clip-path="url(#clipf)">
<path d="M433.81 289.2V288.47H437.14V289.2ZM437.14 289.2V288.83H440.47V289.2ZM440.47 289.2V288.1H443.8V289.2ZM443.8 289.2V288.47H447.13V289.2ZM447.13 289.2V288.1H450.46V289.2ZM450.46 289.2V287.73H453.79V289.2ZM453.79 289.2V287H457.12V289.2ZM457.12 289.2V285.02H460.45V289.2ZM460.45 289.2V282.31H463.78V289.2ZM463.78 289.2V283.7H467.11V289.2ZM467.11 289.2V277.03H470.44V289.2ZM470.44 289.2V279.67H473.77V289.2ZM473.77 289.2V272.34H477.1V289.2ZM477.1 289.2V260.32H480.43V289.2ZM480.43 289.2V256.29H483.76V289.2ZM483.76 289.2V252.33H487.09V289.2ZM487.09 289.2V236.13H490.42V289.2ZM490.42 289.2V227.33H493.75V289.2ZM493.75 289.2V215.09H497.08V289.2ZM497.08 289.2V211.36H500.41V289.2ZM500.41 289.2V196.84H503.74V289.2ZM503.74 289.2V199.99H507.07V289.2ZM507.07 289.2V208.42H510.4V289.2ZM510.4 289.2V194.28H513.73V289.2ZM513.73 289.2V203.29H517.06V289.2ZM517.06 289.2V195.38H520.39V289.2ZM520.39 289.2V216.41H523.72V289.2ZM523.72 289.2V210.7H527.05V289.2ZM527.05 289.2V233.13H530.38V289.2ZM530.38 289.2V249.03H533.71V289.2ZM533.71 289.2V249.03H537.04V289.2ZM537.04 289.2V252.99H540.37V289.2ZM540.37 289.2V260.98H543.7V289.2ZM543.7 289.2V263.03H547.03V289.2ZM547.03 289.2V272.34H550.36V289.2ZM550.36 289.2V275.64H553.69V289.2ZM553.69 289.2V280.33H557.02V289.2ZM557.02 289.2V283.7H560.35V289.2ZM560.35 289.2V285.68H563.68V289.2ZM563.68 289.2V285.39H567.01V289.2ZM567.01 289.2V287.73H570.34V289.2ZM570.34 289.2V288.03H573.67V289.2ZM573.67 289.2V288.25H577V289.2ZM577 289.2V288.54H580.33V289.2ZM580.33 289.2V288.83H583.66V289.2ZM583.66 289.2V288.83H586.99V289.2ZM586.99 289.2V288.32H590.32V289.2ZM590.32 289.2V288.61H593.65V289.2ZM593.65 289.2V287.73H596.98V289.2Z" fill="#fdd283" stroke="rgba(110,90,70,0.5)" stroke-width="0.6"/>
<polyline points="435.56,289.11 436.06,289.1 436.56,289.09 437.06,289.08 437.56,289.07 438.06,289.06 438.56,289.05 439.06,289.03 439.56,289.02 440.06,289 440.56,288.98 441.06,288.96 441.56,288.94 442.06,288.92 442.56,288.89 443.06,288.86 443.56,288.83 444.06,288.8 444.56,288.77 445.06,288.73 445.56,288.69 446.06,288.65 446.56,288.6 447.06,288.55 447.56,288.5 448.06,288.44 448.56,288.38 449.06,288.32 449.56,288.25 450.06,288.17 450.56,288.09 451.06,288.01 451.56,287.92 452.06,287.82 452.56,287.72 453.06,287.61 453.56,287.49 454.06,287.36 454.56,287.23 455.06,287.09 455.56,286.94 456.06,286.78 456.56,286.61 457.06,286.44 457.56,286.25 458.06,286.05 458.56,285.84 459.06,285.61 459.56,285.38 460.06,285.13 460.56,284.87 461.06,284.59 461.56,284.3 462.06,283.99 462.56,283.67 463.06,283.34 463.56,282.98 464.06,282.61 464.56,282.22 465.06,281.82 465.56,281.39 466.06,280.95 466.56,280.48 467.06,280 467.56,279.49 468.06,278.96 468.56,278.41 469.06,277.84 469.56,277.25 470.06,276.63 470.56,275.99 471.06,275.32 471.56,274.63 472.06,273.92 472.56,273.18 473.06,272.41 473.56,271.62 474.06,270.8 474.56,269.96 475.06,269.09 475.56,268.2 476.06,267.28 476.56,266.33 477.06,265.36 477.56,264.36 478.06,263.34 478.56,262.29 479.06,261.22 479.56,260.12 480.06,259 480.56,257.85 481.06,256.68 481.56,255.49 482.06,254.28 482.56,253.04 483.06,251.79 483.56,250.52 484.06,249.23 484.56,247.92 485.06,246.59 485.56,245.25 486.06,243.9 486.56,242.53 487.06,241.15 487.56,239.77 488.06,238.37 488.56,236.97 489.06,235.56 489.56,234.15 490.06,232.74 490.56,231.33 491.06,229.92 491.56,228.52 492.06,227.12 492.56,225.72 493.06,224.34 493.56,222.97 494.06,221.61 494.56,220.27 495.06,218.94 495.56,217.63 496.06,216.35 496.56,215.09 497.06,213.85 497.56,212.64 498.06,211.46 498.56,210.32 499.06,209.2 499.56,208.12 500.06,207.08 500.56,206.08 501.06,205.11 501.56,204.19 502.06,203.31 502.56,202.48 503.06,201.7 503.56,200.96 504.06,200.27 504.56,199.64 505.06,199.05 505.56,198.52 506.06,198.04 506.56,197.62 507.06,197.25 507.56,196.94 508.06,196.69 508.56,196.5 509.06,196.36 509.56,196.28 510.06,196.26 510.56,196.29 511.06,196.39 511.56,196.54 512.07,196.75 512.57,197.02 513.07,197.34 513.57,197.73 514.07,198.16 514.57,198.65 515.07,199.2 515.57,199.8 516.07,200.45 516.57,201.15 517.07,201.9 517.57,202.69 518.07,203.54 518.57,204.43 519.07,205.36 519.57,206.33 520.07,207.35 520.57,208.4 521.07,209.49 521.57,210.61 522.07,211.77 522.57,212.95 523.07,214.17 523.57,215.41 524.07,216.68 524.57,217.97 525.07,219.28 525.57,220.61 526.07,221.96 526.57,223.32 527.07,224.7 527.57,226.08 528.07,227.48 528.57,228.88 529.07,230.29 529.57,231.7 530.07,233.11 530.57,234.52 531.07,235.93 531.57,237.34 532.07,238.74 532.57,240.13 533.07,241.51 533.57,242.89 534.07,244.25 534.57,245.6 535.07,246.94 535.57,248.26 536.07,249.56 536.57,250.85 537.07,252.12 537.57,253.37 538.07,254.6 538.57,255.8 539.07,256.99 539.57,258.15 540.07,259.29 540.57,260.41 541.07,261.5 541.57,262.57 542.07,263.61 542.57,264.63 543.07,265.62 543.57,266.58 544.07,267.52 544.57,268.43 545.07,269.32 545.57,270.18 546.07,271.02 546.57,271.83 547.07,272.61 547.57,273.37 548.07,274.1 548.57,274.81 549.07,275.5 549.57,276.16 550.07,276.79 550.57,277.4 551.07,277.99 551.57,278.56 552.07,279.1 552.57,279.62 553.07,280.12 553.57,280.6 554.07,281.06 554.57,281.5 555.07,281.92 555.57,282.33 556.07,282.71 556.57,283.08 557.07,283.43 557.57,283.76 558.07,284.08 558.57,284.38 559.07,284.66 559.57,284.94 560.07,285.19 560.57,285.44 561.07,285.67 561.57,285.89 562.07,286.1 562.57,286.3 563.07,286.48 563.57,286.66 564.07,286.82 564.57,286.98 565.07,287.13 565.57,287.27 566.07,287.4 566.57,287.52 567.07,287.64 567.57,287.74 568.07,287.85 568.57,287.94 569.07,288.03 569.57,288.12 570.07,288.19 570.57,288.27 571.07,288.34 571.57,288.4 572.07,288.46 572.57,288.51 573.07,288.57 573.57,288.62 574.07,288.66 574.57,288.7 575.07,288.74 575.57,288.78 576.07,288.81 576.57,288.84 577.07,288.87 577.57,288.9 578.07,288.92 578.57,288.94 579.07,288.97 579.57,288.99 580.07,289 580.57,289.02 581.07,289.04 581.57,289.05 582.07,289.06 582.57,289.07 583.07,289.09 583.57,289.1 584.07,289.1 584.57,289.11 585.07,289.12 585.57,289.13 586.07,289.13 586.22,289.14" fill="none" stroke="#4d74bb" stroke-width="1.45" stroke-linejoin="round"/>
<line x1="510.5" y1="182.3" x2="510.5" y2="289.2" stroke="#000" stroke-width="1.25"/>
</g>
<rect x="423.5" y="182.3" width="173.2" height="106.9" fill="none" stroke="#9a9a9a" stroke-width="0.8"/>
<path d="M427.8 289.2v-1.6M427.8 182.3v1.6M436.1 289.2v-1.6M436.1 182.3v1.6M444.4 289.2v-2.8M444.4 182.3v2.8M452.7 289.2v-1.6M452.7 182.3v1.6M461 289.2v-1.6M461 182.3v1.6M469.3 289.2v-1.6M469.3 182.3v1.6M477.6 289.2v-2.8M477.6 182.3v2.8M485.9 289.2v-1.6M485.9 182.3v1.6M494.2 289.2v-1.6M494.2 182.3v1.6M502.5 289.2v-1.6M502.5 182.3v1.6M510.8 289.2v-2.8M510.8 182.3v2.8M519.1 289.2v-1.6M519.1 182.3v1.6M527.4 289.2v-1.6M527.4 182.3v1.6M535.7 289.2v-1.6M535.7 182.3v1.6M544 289.2v-2.8M544 182.3v2.8M552.3 289.2v-1.6M552.3 182.3v1.6M560.6 289.2v-1.6M560.6 182.3v1.6M568.9 289.2v-1.6M568.9 182.3v1.6M577.2 289.2v-2.8M577.2 182.3v2.8M585.5 289.2v-1.6M585.5 182.3v1.6M593.8 289.2v-1.6M593.8 182.3v1.6M423.5 289.5h2.6M596.7 289.5h-2.6M423.5 285.86h1.5M596.7 285.86h-1.5M423.5 282.22h1.5M596.7 282.22h-1.5M423.5 278.58h1.5M596.7 278.58h-1.5M423.5 274.94h2.6M596.7 274.94h-2.6M423.5 271.3h1.5M596.7 271.3h-1.5M423.5 267.66h1.5M596.7 267.66h-1.5M423.5 264.02h1.5M596.7 264.02h-1.5M423.5 260.38h2.6M596.7 260.38h-2.6M423.5 256.74h1.5M596.7 256.74h-1.5M423.5 253.1h1.5M596.7 253.1h-1.5M423.5 249.46h1.5M596.7 249.46h-1.5M423.5 245.82h2.6M596.7 245.82h-2.6M423.5 242.18h1.5M596.7 242.18h-1.5M423.5 238.54h1.5M596.7 238.54h-1.5M423.5 234.9h1.5M596.7 234.9h-1.5M423.5 231.26h2.6M596.7 231.26h-2.6M423.5 227.62h1.5M596.7 227.62h-1.5M423.5 223.98h1.5M596.7 223.98h-1.5M423.5 220.34h1.5M596.7 220.34h-1.5M423.5 216.7h2.6M596.7 216.7h-2.6M423.5 213.06h1.5M596.7 213.06h-1.5M423.5 209.42h1.5M596.7 209.42h-1.5M423.5 205.78h1.5M596.7 205.78h-1.5M423.5 202.14h2.6M596.7 202.14h-2.6M423.5 198.5h1.5M596.7 198.5h-1.5M423.5 194.86h1.5M596.7 194.86h-1.5M423.5 191.22h1.5M596.7 191.22h-1.5M423.5 187.58h2.6M596.7 187.58h-2.6M423.5 183.94h1.5M596.7 183.94h-1.5" stroke="#9a9a9a" stroke-width="0.7" fill="none"/>
<text x="437.4" y="299" text-anchor="middle" class="tl">-4</text>
<text x="474.1" y="299" text-anchor="middle" class="tl">-2</text>
<text x="510.8" y="299" text-anchor="middle" class="tl">0</text>
<text x="547.5" y="299" text-anchor="middle" class="tl">2</text>
<text x="584.2" y="299" text-anchor="middle" class="tl">4</text>
<text x="415.3" y="293" text-anchor="middle" class="tl">0</text>
<text x="415.3" y="278.44" text-anchor="middle" class="tl">20</text>
<text x="415.3" y="263.88" text-anchor="middle" class="tl">40</text>
<text x="415.3" y="249.32" text-anchor="middle" class="tl">60</text>
<text x="415.3" y="234.76" text-anchor="middle" class="tl">80</text>
<text x="415.3" y="220.2" text-anchor="middle" class="tl">100</text>
<text x="415.3" y="205.64" text-anchor="middle" class="tl">120</text>
<text x="415.3" y="191.08" text-anchor="middle" class="tl">140</text>
<text x="423.2" y="190.8" class="pl">(f)</text>
<text x="507.3" y="307.8" class="eps">ϵ</text>
<text x="511.3" y="309.9" class="sb">4</text>
<line x1="503.3" y1="312.2" x2="519.9" y2="312.2" stroke="#777" stroke-width="0.8"/>
<path d="M506.3 314.3L504.1 319.2L506.3 324.1M516.9 314.3L519.1 319.2L516.9 324.1" fill="none" stroke="#0a0a0a" stroke-width="0.7"/>
<text x="506.4" y="321.3" class="eps">δ</text>
<text x="511.2" y="323.6" class="sb">4</text>
<text x="573.98" y="313.51" text-anchor="middle" class="tm">×</text>
<text x="578.08" y="312.2" class="pw">10</text>
<line x1="589.05" y1="305" x2="594.7" y2="305" stroke="#0a0a0a" stroke-width="0.55"/>
<text x="594.57" y="307.7" class="sp">1</text>
<clipPath id="clipg"><rect x="27.5" y="331.3" width="172" height="106.3"/></clipPath>
<g clip-path="url(#clipg)">
<path d="M33.62 437.6V437.08H35.28V437.6ZM35.28 437.6V437.08H36.94V437.6ZM36.94 437.6V437.08H38.6V437.6ZM38.6 437.6V437.08H40.26V437.6ZM40.26 437.6V437.08H41.92V437.6ZM41.92 437.6V437.08H43.58V437.6ZM43.58 437.6V437.08H45.24V437.6ZM45.24 437.6V437.08H46.9V437.6ZM46.9 437.6V437.08H48.56V437.6ZM48.56 437.6V436.65H50.22V437.6ZM50.22 437.6V436.65H51.88V437.6ZM51.88 437.6V436.65H53.54V437.6ZM53.54 437.6V436.65H55.2V437.6ZM55.2 437.6V436.31H56.86V437.6ZM56.86 437.6V436.27H58.52V437.6ZM58.52 437.6V435.88H60.18V437.6ZM60.18 437.6V435.62H61.84V437.6ZM61.84 437.6V434.68H63.5V437.6ZM63.5 437.6V434.59H65.16V437.6ZM65.16 437.6V433.34H66.82V437.6ZM66.82 437.6V433.6H68.48V437.6ZM68.48 437.6V429.86H70.14V437.6ZM70.14 437.6V429H71.8V437.6ZM71.8 437.6V430.98H73.46V437.6ZM73.46 437.6V430.98H75.12V437.6ZM75.12 437.6V430.98H76.78V437.6ZM76.78 437.6V427.71H78.44V437.6ZM78.44 437.6V425H80.1V437.6ZM80.1 437.6V422.42H81.76V437.6ZM81.76 437.6V422.42H83.42V437.6ZM83.42 437.6V419.11H85.08V437.6ZM85.08 437.6V415.24H86.74V437.6ZM86.74 437.6V411.37H88.4V437.6ZM88.4 437.6V406.64H90.06V437.6ZM90.06 437.6V407.07H91.72V437.6ZM91.72 437.6V398.21H93.38V437.6ZM93.38 437.6V394.3H95.04V437.6ZM95.04 437.6V388.15H96.7V437.6ZM96.7 437.6V381.27H98.36V437.6ZM98.36 437.6V375.25H100.02V437.6ZM100.02 437.6V373.1H101.68V437.6ZM101.68 437.6V365.1H103.34V437.6ZM103.34 437.6V357.66H105V437.6ZM105 437.6V354.31H106.66V437.6ZM106.66 437.6V343.65H108.32V437.6ZM108.32 437.6V348.33H109.98V437.6ZM109.98 437.6V351.69H111.64V437.6ZM111.64 437.6V356.33H113.3V437.6ZM113.3 437.6V336.98H114.96V437.6ZM114.96 437.6V344.29H116.62V437.6ZM116.62 437.6V349.02H118.28V437.6ZM118.28 437.6V351.69H119.94V437.6ZM119.94 437.6V357.02H121.6V437.6ZM121.6 437.6V362.35H123.26V437.6ZM123.26 437.6V367.08H124.92V437.6ZM124.92 437.6V370.95H126.58V437.6ZM126.58 437.6V374.99H128.24V437.6ZM128.24 437.6V383.85H129.9V437.6ZM129.9 437.6V378.26H131.56V437.6ZM131.56 437.6V388.67H133.22V437.6ZM133.22 437.6V394H134.88V437.6ZM134.88 437.6V399.33H136.54V437.6ZM136.54 437.6V404.66H138.2V437.6ZM138.2 437.6V406.64H139.86V437.6ZM139.86 437.6V411.97H141.52V437.6ZM141.52 437.6V413.31H143.18V437.6ZM143.18 437.6V415.33H144.84V437.6ZM144.84 437.6V417.99H146.5V437.6ZM146.5 437.6V423.32H148.16V437.6ZM148.16 437.6V425.3H149.82V437.6ZM149.82 437.6V425.99H151.48V437.6ZM151.48 437.6V428.01H153.14V437.6ZM153.14 437.6V424.7H154.8V437.6ZM154.8 437.6V430.68H156.46V437.6ZM156.46 437.6V432.01H158.12V437.6ZM158.12 437.6V432.66H159.78V437.6ZM159.78 437.6V433.99H161.44V437.6ZM161.44 437.6V434.25H163.1V437.6ZM163.1 437.6V433.34H164.76V437.6ZM164.76 437.6V435.32H166.42V437.6ZM166.42 437.6V435.97H168.08V437.6ZM168.08 437.6V436.4H169.74V437.6ZM169.74 437.6V436.65H171.4V437.6ZM171.4 437.6V436.65H173.06V437.6ZM173.06 437.6V436.91H174.72V437.6ZM174.72 437.6V437H176.38V437.6ZM176.38 437.6V435.97H178.04V437.6ZM178.04 437.6V437H179.7V437.6ZM179.7 437.6V436.27H181.36V437.6ZM181.36 437.6V437.34H183.02V437.6ZM183.02 437.6V437.34H184.68V437.6ZM184.68 437.6V437.34H186.34V437.6ZM186.34 437.6V437.34H188V437.6ZM188 437.6V437.34H189.66V437.6ZM189.66 437.6V437.34H191.32V437.6ZM191.32 437.6V437.34H192.98V437.6ZM192.98 437.6V437.34H194.64V437.6Z" fill="#fdd283" stroke="rgba(160,120,70,0.08)" stroke-width="0.5"/>
<polyline points="27.5,437.59 28,437.59 28.5,437.59 29,437.59 29.5,437.59 30,437.59 30.5,437.59 31,437.59 31.5,437.59 32,437.59 32.5,437.58 33,437.58 33.5,437.58 34,437.58 34.5,437.58 35,437.57 35.5,437.57 36,437.57 36.5,437.57 37,437.56 37.5,437.56 38,437.55 38.5,437.55 39,437.54 39.5,437.54 40,437.53 40.5,437.52 41,437.52 41.5,437.51 42,437.5 42.5,437.49 43,437.48 43.5,437.47 44,437.46 44.5,437.44 45,437.43 45.5,437.41 46,437.4 46.5,437.38 47,437.36 47.5,437.33 48,437.31 48.5,437.29 49,437.26 49.5,437.23 50,437.2 50.5,437.16 51,437.12 51.5,437.08 52,437.04 52.5,436.99 53,436.95 53.5,436.89 54,436.83 54.5,436.77 55,436.71 55.5,436.64 56,436.56 56.5,436.48 57,436.4 57.5,436.31 58,436.21 58.5,436.11 59,436 59.5,435.88 60,435.75 60.5,435.62 61,435.48 61.5,435.33 62,435.17 62.5,435.01 63,434.83 63.5,434.64 64,434.45 64.5,434.24 65,434.02 65.5,433.78 66,433.54 66.5,433.28 67,433.01 67.5,432.73 68,432.43 68.5,432.11 69,431.78 69.5,431.44 70,431.08 70.5,430.7 71,430.3 71.5,429.89 72,429.46 72.5,429 73,428.54 73.5,428.05 74,427.54 74.5,427.01 75,426.46 75.5,425.89 76,425.29 76.5,424.68 77,424.04 77.5,423.38 78,422.7 78.5,422 79,421.27 79.5,420.52 80,419.75 80.5,418.96 81,418.14 81.5,417.3 82,416.44 82.5,415.55 83,414.64 83.5,413.71 84,412.76 84.5,411.78 85,410.79 85.5,409.77 86,408.74 86.5,407.68 87,406.61 87.5,405.52 88,404.41 88.5,403.28 89,402.14 89.5,400.99 90,399.82 90.5,398.64 91,397.45 91.5,396.25 92,395.04 92.5,393.82 93,392.6 93.5,391.37 94,390.14 94.5,388.91 95,387.67 95.5,386.44 96,385.22 96.5,383.99 97,382.78 97.5,381.57 98,380.37 98.5,379.19 99,378.01 99.5,376.86 100,375.72 100.5,374.6 101,373.5 101.5,372.42 102,371.37 102.5,370.34 103,369.34 103.5,368.37 104,367.43 104.5,366.53 105,365.66 105.5,364.82 106,364.03 106.5,363.27 107,362.55 107.5,361.87 108,361.24 108.5,360.65 109,360.11 109.5,359.61 110,359.16 110.5,358.75 111,358.4 111.5,358.09 112,357.84 112.5,357.63 113,357.48 113.5,357.38 114,357.33 114.5,357.33 115,357.38 115.5,357.48 116,357.63 116.5,357.84 117,358.09 117.5,358.4 118,358.75 118.5,359.16 119,359.61 119.5,360.11 120,360.65 120.5,361.24 121,361.87 121.5,362.55 122,363.27 122.5,364.03 123,364.82 123.5,365.66 124,366.53 124.5,367.43 125,368.37 125.5,369.34 126,370.34 126.5,371.37 127,372.42 127.5,373.5 128,374.6 128.5,375.72 129,376.86 129.5,378.01 130,379.19 130.5,380.37 131,381.57 131.5,382.78 132,383.99 132.5,385.22 133,386.44 133.5,387.67 134,388.91 134.5,390.14 135,391.37 135.5,392.6 136,393.82 136.5,395.04 137,396.25 137.5,397.45 138,398.64 138.5,399.82 139,400.99 139.5,402.14 140,403.28 140.5,404.41 141,405.52 141.5,406.61 142,407.68 142.5,408.74 143,409.77 143.5,410.79 144,411.78 144.5,412.76 145,413.71 145.5,414.64 146,415.55 146.5,416.44 147,417.3 147.5,418.14 148,418.96 148.5,419.75 149,420.52 149.5,421.27 150,422 150.5,422.7 151,423.38 151.5,424.04 152,424.68 152.5,425.29 153,425.89 153.5,426.46 154,427.01 154.5,427.54 155,428.05 155.5,428.54 156,429 156.5,429.46 157,429.89 157.5,430.3 158,430.7 158.5,431.08 159,431.44 159.5,431.78 160,432.11 160.5,432.43 161,432.73 161.5,433.01 162,433.28 162.5,433.54 163,433.78 163.5,434.02 164,434.24 164.5,434.45 165,434.64 165.5,434.83 166,435.01 166.5,435.17 167,435.33 167.5,435.48 168,435.62 168.5,435.75 169,435.88 169.5,436 170,436.11 170.5,436.21 171,436.31 171.5,436.4 172,436.48 172.5,436.56 173,436.64 173.5,436.71 174,436.77 174.5,436.83 175,436.89 175.5,436.95 176,436.99 176.5,437.04 177,437.08 177.5,437.12 178,437.16 178.5,437.2 179,437.23 179.5,437.26 180,437.29 180.5,437.31 181,437.33 181.5,437.36 182,437.38 182.5,437.4 183,437.41 183.5,437.43 184,437.44 184.5,437.46 185,437.47 185.5,437.48 186,437.49 186.5,437.5 187,437.51 187.5,437.52 188,437.52 188.5,437.53 189,437.54 189.5,437.54 190,437.55 190.5,437.55 191,437.56 191.5,437.56 192,437.57 192.5,437.57 193,437.57 193.5,437.57 194,437.58 194.5,437.58 195,437.58 195.5,437.58 196,437.58 196.5,437.59 197,437.59 197.5,437.59 198,437.59 198.5,437.59 199,437.59 199.5,437.59 200,437.59" fill="none" stroke="#4d74bb" stroke-width="1.45" stroke-linejoin="round"/>
<line x1="114.5" y1="331.3" x2="114.5" y2="437.6" stroke="rgba(0,0,0,0.6)" stroke-width="1.1"/>
</g>
<rect x="27.5" y="331.3" width="172" height="106.3" fill="none" stroke="#9a9a9a" stroke-width="0.8"/>
<path d="M30.8 437.6v-2.8M30.8 331.3v2.8M39.07 437.6v-1.6M39.07 331.3v1.6M47.34 437.6v-1.6M47.34 331.3v1.6M55.61 437.6v-1.6M55.61 331.3v1.6M63.88 437.6v-1.6M63.88 331.3v1.6M72.15 437.6v-2.8M72.15 331.3v2.8M80.42 437.6v-1.6M80.42 331.3v1.6M88.69 437.6v-1.6M88.69 331.3v1.6M96.96 437.6v-1.6M96.96 331.3v1.6M105.23 437.6v-1.6M105.23 331.3v1.6M113.5 437.6v-2.8M113.5 331.3v2.8M121.77 437.6v-1.6M121.77 331.3v1.6M130.04 437.6v-1.6M130.04 331.3v1.6M138.31 437.6v-1.6M138.31 331.3v1.6M146.58 437.6v-1.6M146.58 331.3v1.6M154.85 437.6v-2.8M154.85 331.3v2.8M163.12 437.6v-1.6M163.12 331.3v1.6M171.39 437.6v-1.6M171.39 331.3v1.6M179.66 437.6v-1.6M179.66 331.3v1.6M187.93 437.6v-1.6M187.93 331.3v1.6M196.2 437.6v-2.8M196.2 331.3v2.8M27.5 437.6h2.6M199.5 437.6h-2.6M27.5 433.3h1.5M199.5 433.3h-1.5M27.5 429h1.5M199.5 429h-1.5M27.5 424.7h1.5M199.5 424.7h-1.5M27.5 420.4h1.5M199.5 420.4h-1.5M27.5 416.1h2.6M199.5 416.1h-2.6M27.5 411.8h1.5M199.5 411.8h-1.5M27.5 407.5h1.5M199.5 407.5h-1.5M27.5 403.2h1.5M199.5 403.2h-1.5M27.5 398.9h1.5M199.5 398.9h-1.5M27.5 394.6h2.6M199.5 394.6h-2.6M27.5 390.3h1.5M199.5 390.3h-1.5M27.5 386h1.5M199.5 386h-1.5M27.5 381.7h1.5M199.5 381.7h-1.5M27.5 377.4h1.5M199.5 377.4h-1.5M27.5 373.1h2.6M199.5 373.1h-2.6M27.5 368.8h1.5M199.5 368.8h-1.5M27.5 364.5h1.5M199.5 364.5h-1.5M27.5 360.2h1.5M199.5 360.2h-1.5M27.5 355.9h1.5M199.5 355.9h-1.5M27.5 351.6h2.6M199.5 351.6h-2.6M27.5 347.3h1.5M199.5 347.3h-1.5M27.5 343h1.5M199.5 343h-1.5M27.5 338.7h1.5M199.5 338.7h-1.5M27.5 334.4h1.5M199.5 334.4h-1.5" stroke="#9a9a9a" stroke-width="0.7" fill="none"/>
<text x="31" y="446.9" text-anchor="middle" class="tl">-10</text>
<text x="72.25" y="446.9" text-anchor="middle" class="tl">-5</text>
<text x="113.5" y="446.9" text-anchor="middle" class="tl">0</text>
<text x="154.75" y="446.9" text-anchor="middle" class="tl">5</text>
<text x="196" y="446.9" text-anchor="middle" class="tl">10</text>
<text x="18.6" y="441.1" text-anchor="middle" class="tl">0</text>
<text x="18.6" y="419.6" text-anchor="middle" class="tl">50</text>
<text x="18.6" y="398.1" text-anchor="middle" class="tl">100</text>
<text x="18.6" y="376.6" text-anchor="middle" class="tl">150</text>
<text x="18.6" y="355.1" text-anchor="middle" class="tl">200</text>
<text x="27.8" y="340.3" class="pl">(g)</text>
<text x="114.35" y="455" class="eps">ϵ</text>
<text x="118.35" y="457.1" class="sb">5</text>
<line x1="110.3" y1="459.5" x2="127" y2="459.5" stroke="#777" stroke-width="0.8"/>
<path d="M113.3 461.8L111.1 466.7L113.3 471.6M124 461.8L126.2 466.7L124 471.6" fill="none" stroke="#0a0a0a" stroke-width="0.7"/>
<text x="113.45" y="468.8" class="eps">δ</text>
<text x="118.25" y="471.1" class="sb">5</text>
<text x="179.95" y="461.46" text-anchor="middle" class="tm">×</text>
<text x="184.33" y="460.1" class="pw">10</text>
<text x="195" y="456.25" class="sps">-4</text>
<text transform="translate(6.9,382) rotate(-90)" text-anchor="middle" class="cnt" textLength="26.9" lengthAdjust="spacingAndGlyphs">Count</text>
<clipPath id="cliph"><rect x="225.6" y="329.1" width="174.6" height="107.9"/></clipPath>
<g clip-path="url(#cliph)">
<path d="M238.89 436.9V434.32H240.57V436.9ZM242.26 436.9V434.32H243.94V436.9ZM245.62 436.9V434.32H247.31V436.9ZM247.31 436.9V434.32H248.99V436.9ZM254.04 436.9V435.75H255.73V436.9ZM255.73 436.9V435.75H257.41V436.9ZM257.41 436.9V435.04H259.1V436.9ZM259.1 436.9V434.32H260.78V436.9ZM260.78 436.9V433.75H262.46V436.9ZM262.46 436.9V432.31H264.15V436.9ZM264.15 436.9V430.3H265.83V436.9ZM265.83 436.9V429.59H267.52V436.9ZM267.52 436.9V429.01H269.2V436.9ZM269.2 436.9V428.3H270.88V436.9ZM270.88 436.9V426.86H272.57V436.9ZM272.57 436.9V422.27H274.25V436.9ZM274.25 436.9V426.29H275.94V436.9ZM275.94 436.9V416.97H277.62V436.9ZM277.62 436.9V416.97H279.3V436.9ZM279.3 436.9V415.68H280.99V436.9ZM280.99 436.9V417.68H282.67V436.9ZM282.67 436.9V405.07H284.36V436.9ZM284.36 436.9V399.62H286.04V436.9ZM286.04 436.9V399.04H287.72V436.9ZM287.72 436.9V405.07H289.41V436.9ZM289.41 436.9V393.02H291.09V436.9ZM291.09 436.9V393.02H292.78V436.9ZM292.78 436.9V379.54H294.46V436.9ZM294.46 436.9V373.8H296.14V436.9ZM296.14 436.9V355.02H297.83V436.9ZM297.83 436.9V359.75H299.51V436.9ZM299.51 436.9V365.06H301.2V436.9ZM301.2 436.9V367.06H302.88V436.9ZM302.88 436.9V367.06H304.56V436.9ZM304.56 436.9V365.63H306.25V436.9ZM306.25 436.9V346.99H307.93V436.9ZM307.93 436.9V358.03H309.62V436.9ZM309.62 436.9V362.33H311.3V436.9ZM312.98 436.9V334.37H314.67V436.9ZM314.67 436.9V355.02H316.35V436.9ZM316.35 436.9V338.24H318.04V436.9ZM318.04 436.9V342.26H319.72V436.9ZM319.72 436.9V357.74H321.4V436.9ZM321.4 436.9V344.84H323.09V436.9ZM323.09 436.9V360.9H324.77V436.9ZM324.77 436.9V356.17H326.46V436.9ZM326.46 436.9V368.35H328.14V436.9ZM328.14 436.9V372.66H329.82V436.9ZM329.82 436.9V380.97H331.51V436.9ZM331.51 436.9V380.26H333.19V436.9ZM333.19 436.9V375.67H334.88V436.9ZM334.88 436.9V399.04H336.56V436.9ZM336.56 436.9V389H338.24V436.9ZM338.24 436.9V389.58H339.93V436.9ZM339.93 436.9V409.65H341.61V436.9ZM341.61 436.9V397.61H343.3V436.9ZM343.3 436.9V409.65H344.98V436.9ZM344.98 436.9V414.39H346.66V436.9ZM346.66 436.9V414.96H348.35V436.9ZM348.35 436.9V426.86H350.03V436.9ZM350.03 436.9V420.27H351.72V436.9ZM351.72 436.9V420.98H353.4V436.9ZM353.4 436.9V426.86H355.08V436.9ZM355.08 436.9V431.31H356.77V436.9ZM356.77 436.9V429.59H358.45V436.9ZM358.45 436.9V430.3H360.14V436.9ZM360.14 436.9V432.31H361.82V436.9ZM361.82 436.9V432.88H363.5V436.9ZM363.5 436.9V434.32H365.19V436.9ZM365.19 436.9V435.75H366.87V436.9ZM366.87 436.9V436.04H368.56V436.9ZM368.56 436.9V436.04H370.24V436.9ZM370.24 436.9V436.04H371.92V436.9ZM371.92 436.9V436.04H373.61V436.9ZM373.61 436.9V431.31H375.29V436.9ZM375.29 436.9V433.6H376.98V436.9ZM376.98 436.9V432.31H378.66V436.9ZM378.66 436.9V434.32H380.34V436.9ZM380.34 436.9V434.32H382.03V436.9ZM311.3 436.9V347.99H312.98V436.9Z" fill="#fdd283" stroke="rgba(160,120,70,0.08)" stroke-width="0.5"/>
<polyline points="225.6,436.88 226.1,436.88 226.6,436.88 227.1,436.88 227.6,436.88 228.1,436.87 228.6,436.87 229.1,436.87 229.6,436.86 230.1,436.86 230.6,436.86 231.1,436.85 231.6,436.85 232.1,436.84 232.6,436.84 233.1,436.83 233.6,436.83 234.1,436.82 234.6,436.81 235.1,436.8 235.6,436.8 236.1,436.79 236.6,436.78 237.1,436.77 237.6,436.75 238.1,436.74 238.6,436.73 239.1,436.71 239.6,436.7 240.1,436.68 240.6,436.66 241.1,436.64 241.6,436.62 242.1,436.6 242.6,436.57 243.1,436.54 243.6,436.51 244.1,436.48 244.6,436.45 245.1,436.41 245.6,436.38 246.1,436.34 246.6,436.29 247.1,436.25 247.6,436.2 248.1,436.14 248.6,436.09 249.1,436.03 249.6,435.96 250.1,435.89 250.6,435.82 251.1,435.74 251.6,435.66 252.1,435.57 252.6,435.48 253.1,435.38 253.6,435.28 254.1,435.17 254.6,435.05 255.1,434.92 255.6,434.79 256.1,434.65 256.6,434.51 257.1,434.35 257.6,434.19 258.1,434.02 258.6,433.84 259.1,433.64 259.6,433.44 260.1,433.23 260.6,433.01 261.1,432.78 261.6,432.53 262.1,432.28 262.6,432.01 263.1,431.72 263.6,431.43 264.1,431.12 264.6,430.8 265.1,430.46 265.6,430.11 266.1,429.74 266.6,429.36 267.1,428.96 267.6,428.54 268.1,428.11 268.6,427.66 269.1,427.19 269.6,426.71 270.1,426.21 270.6,425.68 271.1,425.14 271.6,424.58 272.1,424 272.6,423.4 273.1,422.78 273.6,422.14 274.1,421.48 274.6,420.8 275.1,420.1 275.6,419.38 276.1,418.63 276.6,417.87 277.1,417.08 277.6,416.28 278.1,415.45 278.6,414.6 279.1,413.73 279.6,412.84 280.1,411.94 280.6,411.01 281.1,410.06 281.6,409.09 282.1,408.1 282.6,407.1 283.1,406.07 283.6,405.03 284.1,403.97 284.6,402.9 285.1,401.81 285.6,400.71 286.1,399.59 286.6,398.46 287.1,397.31 287.6,396.16 288.1,394.99 288.6,393.82 289.1,392.64 289.6,391.45 290.1,390.25 290.6,389.05 291.1,387.84 291.6,386.64 292.1,385.43 292.6,384.22 293.1,383.02 293.6,381.81 294.1,380.61 294.6,379.42 295.1,378.23 295.6,377.06 296.1,375.89 296.6,374.74 297.1,373.6 297.6,372.47 298.1,371.36 298.6,370.27 299.1,369.2 299.6,368.15 300.1,367.12 300.6,366.11 301.1,365.13 301.6,364.18 302.1,363.26 302.6,362.36 303.1,361.5 303.6,360.67 304.1,359.87 304.6,359.11 305.1,358.38 305.6,357.69 306.1,357.04 306.6,356.43 307.1,355.86 307.6,355.33 308.1,354.85 308.6,354.4 309.1,354 309.6,353.65 310.1,353.34 310.6,353.07 311.1,352.85 311.6,352.68 312.1,352.55 312.6,352.47 313.1,352.44 313.6,352.45 314.1,352.51 314.6,352.62 315.1,352.78 315.6,352.98 316.1,353.22 316.6,353.52 317.1,353.85 317.6,354.24 318.1,354.66 318.6,355.13 319.1,355.65 319.6,356.2 320.1,356.79 320.6,357.43 321.1,358.1 321.6,358.81 322.1,359.56 322.6,360.35 323.1,361.16 323.6,362.01 324.1,362.89 324.6,363.81 325.1,364.75 325.6,365.72 326.1,366.71 326.6,367.73 327.1,368.77 327.6,369.84 328.1,370.92 328.6,372.02 329.1,373.14 329.6,374.28 330.1,375.43 330.6,376.59 331.1,377.76 331.6,378.95 332.1,380.14 332.6,381.33 333.1,382.53 333.6,383.74 334.1,384.95 334.6,386.15 335.1,387.36 335.6,388.57 336.1,389.77 336.6,390.97 337.1,392.16 337.6,393.35 338.1,394.53 338.6,395.69 339.1,396.85 339.6,398 340.1,399.14 340.6,400.26 341.1,401.37 341.6,402.47 342.1,403.55 342.6,404.61 343.1,405.66 343.6,406.69 344.1,407.7 344.6,408.7 345.1,409.67 345.6,410.63 346.1,411.57 346.6,412.48 347.1,413.38 347.6,414.26 348.1,415.11 348.6,415.95 349.1,416.76 349.6,417.56 350.1,418.33 350.6,419.08 351.1,419.81 351.6,420.52 352.1,421.21 352.6,421.88 353.1,422.53 353.6,423.16 354.1,423.76 354.6,424.35 355.1,424.92 355.6,425.47 356.1,426 356.6,426.51 357.1,427 357.6,427.48 358.1,427.93 358.6,428.37 359.1,428.79 359.6,429.2 360.1,429.59 360.6,429.96 361.1,430.32 361.6,430.66 362.1,430.99 362.6,431.31 363.1,431.61 363.6,431.9 364.1,432.17 364.6,432.43 365.1,432.68 365.6,432.92 366.1,433.14 366.6,433.36 367.1,433.57 367.6,433.76 368.1,433.95 368.6,434.12 369.1,434.29 369.6,434.45 370.1,434.6 370.6,434.74 371.1,434.87 371.6,435 372.1,435.12 372.6,435.23 373.1,435.34 373.6,435.44 374.1,435.54 374.6,435.63 375.1,435.71 375.6,435.79 376.1,435.86 376.6,435.93 377.1,436 377.6,436.06 378.1,436.12 378.6,436.18 379.1,436.23 379.6,436.27 380.1,436.32 380.6,436.36 381.1,436.4 381.6,436.44 382.1,436.47 382.6,436.5 383.1,436.53 383.6,436.56 384.1,436.59 384.6,436.61 385.1,436.63 385.6,436.65 386.1,436.67 386.6,436.69 387.1,436.71 387.6,436.72 388.1,436.74 388.6,436.75 389.1,436.76 389.6,436.77 390.1,436.78 390.6,436.79 391.1,436.8 391.6,436.81 392.1,436.82 392.6,436.82 393.1,436.83 393.6,436.84 394.1,436.84 394.6,436.85 395.1,436.85 395.6,436.86 396.1,436.86 396.6,436.86 397.1,436.87 397.6,436.87 398.1,436.87 398.6,436.87 399.1,436.88 399.6,436.88 400.1,436.88 400.6,436.88 400.7,436.88" fill="none" stroke="#4d74bb" stroke-width="1.45" stroke-linejoin="round"/>
<line x1="312.5" y1="329.1" x2="312.5" y2="437" stroke="#000" stroke-width="1.25"/>
</g>
<rect x="225.6" y="329.1" width="174.6" height="107.9" fill="none" stroke="#9a9a9a" stroke-width="0.8"/>
<path d="M228.8 437v-1.6M228.8 329.1v1.6M237.22 437v-1.6M237.22 329.1v1.6M245.64 437v-2.8M245.64 329.1v2.8M254.06 437v-1.6M254.06 329.1v1.6M262.48 437v-1.6M262.48 329.1v1.6M270.9 437v-1.6M270.9 329.1v1.6M279.32 437v-2.8M279.32 329.1v2.8M287.74 437v-1.6M287.74 329.1v1.6M296.16 437v-1.6M296.16 329.1v1.6M304.58 437v-1.6M304.58 329.1v1.6M313 437v-2.8M313 329.1v2.8M321.42 437v-1.6M321.42 329.1v1.6M329.84 437v-1.6M329.84 329.1v1.6M338.26 437v-1.6M338.26 329.1v1.6M346.68 437v-2.8M346.68 329.1v2.8M355.1 437v-1.6M355.1 329.1v1.6M363.52 437v-1.6M363.52 329.1v1.6M371.94 437v-1.6M371.94 329.1v1.6M380.36 437v-2.8M380.36 329.1v2.8M388.78 437v-1.6M388.78 329.1v1.6M397.2 437v-1.6M397.2 329.1v1.6M225.6 436.9h2.6M400.2 436.9h-2.6M225.6 434.07h1.5M400.2 434.07h-1.5M225.6 431.24h1.5M400.2 431.24h-1.5M225.6 428.41h1.5M400.2 428.41h-1.5M225.6 425.58h1.5M400.2 425.58h-1.5M225.6 422.75h2.6M400.2 422.75h-2.6M225.6 419.92h1.5M400.2 419.92h-1.5M225.6 417.09h1.5M400.2 417.09h-1.5M225.6 414.26h1.5M400.2 414.26h-1.5M225.6 411.43h1.5M400.2 411.43h-1.5M225.6 408.6h2.6M400.2 408.6h-2.6M225.6 405.77h1.5M400.2 405.77h-1.5M225.6 402.94h1.5M400.2 402.94h-1.5M225.6 400.11h1.5M400.2 400.11h-1.5M225.6 397.28h1.5M400.2 397.28h-1.5M225.6 394.45h2.6M400.2 394.45h-2.6M225.6 391.62h1.5M400.2 391.62h-1.5M225.6 388.79h1.5M400.2 388.79h-1.5M225.6 385.96h1.5M400.2 385.96h-1.5M225.6 383.13h1.5M400.2 383.13h-1.5M225.6 380.3h2.6M400.2 380.3h-2.6M225.6 377.47h1.5M400.2 377.47h-1.5M225.6 374.64h1.5M400.2 374.64h-1.5M225.6 371.81h1.5M400.2 371.81h-1.5M225.6 368.98h1.5M400.2 368.98h-1.5M225.6 366.15h2.6M400.2 366.15h-2.6M225.6 363.32h1.5M400.2 363.32h-1.5M225.6 360.49h1.5M400.2 360.49h-1.5M225.6 357.66h1.5M400.2 357.66h-1.5M225.6 354.83h1.5M400.2 354.83h-1.5M225.6 352h2.6M400.2 352h-2.6M225.6 349.17h1.5M400.2 349.17h-1.5M225.6 346.34h1.5M400.2 346.34h-1.5M225.6 343.51h1.5M400.2 343.51h-1.5M225.6 340.68h1.5M400.2 340.68h-1.5M225.6 337.85h2.6M400.2 337.85h-2.6M225.6 335.02h1.5M400.2 335.02h-1.5M225.6 332.19h1.5M400.2 332.19h-1.5M225.6 329.36h1.5M400.2 329.36h-1.5" stroke="#9a9a9a" stroke-width="0.7" fill="none"/>
<text x="245.64" y="447.6" text-anchor="middle" class="tl">-4</text>
<text x="279.32" y="447.6" text-anchor="middle" class="tl">-2</text>
<text x="313" y="447.6" text-anchor="middle" class="tl">0</text>
<text x="346.68" y="447.6" text-anchor="middle" class="tl">2</text>
<text x="380.36" y="447.6" text-anchor="middle" class="tl">4</text>
<text x="219.5" y="440.4" text-anchor="middle" class="tl">0</text>
<text x="219.5" y="426.25" text-anchor="middle" class="tl">10</text>
<text x="219.5" y="412.1" text-anchor="middle" class="tl">20</text>
<text x="219.5" y="397.95" text-anchor="middle" class="tl">30</text>
<text x="219.5" y="383.8" text-anchor="middle" class="tl">40</text>
<text x="219.5" y="369.65" text-anchor="middle" class="tl">50</text>
<text x="219.5" y="355.5" text-anchor="middle" class="tl">60</text>
<text x="219.5" y="341.35" text-anchor="middle" class="tl">70</text>
<text x="225.3" y="338.8" class="pl">(h)</text>
<text x="311.25" y="457.8" class="eps">ϵ</text>
<text x="315.25" y="459.9" class="sb">5</text>
<line x1="307.2" y1="462" x2="323.9" y2="462" stroke="#777" stroke-width="0.8"/>
<path d="M310.2 464.5L308 469.4L310.2 474.3M320.9 464.5L323.1 469.4L320.9 474.3" fill="none" stroke="#0a0a0a" stroke-width="0.7"/>
<text x="310.35" y="471.5" class="eps">δ</text>
<text x="315.15" y="473.8" class="sb">5</text>
<text x="375" y="459.41" text-anchor="middle" class="tm">×</text>
<text x="378.93" y="458" class="pw">10</text>
<line x1="390.3" y1="451.5" x2="395.7" y2="451.5" stroke="#0a0a0a" stroke-width="0.55"/>
<text x="396.08" y="453.55" class="sp">2</text>
<clipPath id="clipi"><rect x="423.4" y="329.8" width="176.1" height="109.2"/></clipPath>
<g clip-path="url(#clipi)">
<path d="M435.01 439V438.63H438.34V439ZM438.34 439V437.74H441.67V439ZM441.67 439V436.62H445V439ZM445 439V437.74H448.33V439ZM448.33 439V438.33H451.66V439ZM451.66 439V437.74H454.99V439ZM454.99 439V435.73H458.32V439ZM458.32 439V435.73H461.65V439ZM461.65 439V428.15H464.98V439ZM464.98 439V430.31H468.31V439ZM468.31 439V430.98H471.64V439ZM471.64 439V423.69H474.97V439ZM474.97 439V419.68H478.3V439ZM478.3 439V410.32H481.63V439ZM481.63 439V399.7H484.96V439ZM484.96 439V394.72H488.29V439ZM488.29 439V391H491.62V439ZM491.62 439V366.33H494.95V439ZM494.95 439V374.73H498.28V439ZM498.28 439V363.07H501.61V439ZM501.61 439V371.98H504.94V439ZM504.94 439V347.09H508.27V439ZM508.27 439V344.94H511.6V439ZM511.6 439V345.68H514.93V439ZM514.93 439V334.01H518.26V439ZM518.26 439V354H521.59V439ZM521.59 439V367.3H524.92V439ZM524.92 439V366.33H528.25V439ZM528.25 439V380.67H531.58V439ZM531.58 439V393.75H534.91V439ZM534.91 439V397.02H538.24V439ZM538.24 439V406.98H541.57V439ZM541.57 439V411.66H544.9V439ZM544.9 439V413.96H548.23V439ZM548.23 439V423.03H551.56V439ZM551.56 439V426.29H554.89V439ZM554.89 439V428.97H558.22V439ZM558.22 439V429.86H561.55V439ZM561.55 439V434.99H564.88V439ZM564.88 439V435.66H568.21V439ZM568.21 439V436.99H571.54V439ZM571.54 439V437.66H574.87V439ZM574.87 439V437.66H578.2V439ZM578.2 439V437.37H581.53V439ZM581.53 439V438.33H584.86V439Z" fill="#fdd283" stroke="rgba(110,90,70,0.5)" stroke-width="0.6"/>
<polyline points="434.1,438.89 434.6,438.88 435.1,438.87 435.6,438.86 436.1,438.85 436.6,438.83 437.1,438.82 437.6,438.8 438.1,438.78 438.6,438.77 439.1,438.75 439.6,438.72 440.1,438.7 440.6,438.68 441.1,438.65 441.6,438.62 442.1,438.59 442.6,438.56 443.1,438.52 443.6,438.48 444.1,438.44 444.6,438.4 445.1,438.35 445.6,438.3 446.1,438.25 446.6,438.19 447.1,438.13 447.6,438.06 448.1,437.99 448.6,437.92 449.1,437.84 449.6,437.76 450.1,437.67 450.6,437.57 451.1,437.47 451.6,437.36 452.1,437.25 452.6,437.13 453.1,437 453.6,436.87 454.1,436.72 454.6,436.57 455.1,436.41 455.6,436.24 456.1,436.06 456.6,435.88 457.1,435.68 457.6,435.47 458.1,435.25 458.6,435.02 459.1,434.77 459.6,434.52 460.1,434.25 460.6,433.97 461.1,433.67 461.6,433.36 462.1,433.04 462.6,432.7 463.1,432.35 463.6,431.98 464.1,431.59 464.6,431.18 465.1,430.76 465.6,430.32 466.1,429.87 466.6,429.39 467.1,428.89 467.6,428.38 468.1,427.85 468.6,427.29 469.1,426.71 469.6,426.12 470.1,425.5 470.6,424.86 471.1,424.2 471.6,423.52 472.1,422.81 472.6,422.08 473.1,421.33 473.6,420.55 474.1,419.76 474.6,418.94 475.1,418.09 475.6,417.23 476.1,416.34 476.6,415.42 477.1,414.49 477.6,413.53 478.1,412.55 478.6,411.54 479.1,410.52 479.6,409.47 480.1,408.4 480.6,407.31 481.1,406.2 481.6,405.08 482.1,403.93 482.6,402.76 483.1,401.58 483.6,400.38 484.1,399.16 484.6,397.93 485.1,396.68 485.6,395.43 486.1,394.15 486.6,392.87 487.1,391.58 487.6,390.28 488.1,388.97 488.6,387.66 489.1,386.34 489.6,385.02 490.1,383.7 490.6,382.37 491.1,381.05 491.6,379.73 492.1,378.41 492.6,377.1 493.1,375.8 493.6,374.51 494.1,373.23 494.6,371.96 495.1,370.7 495.6,369.46 496.1,368.24 496.6,367.03 497.1,365.85 497.6,364.69 498.1,363.55 498.6,362.44 499.1,361.36 499.6,360.31 500.1,359.29 500.6,358.3 501.1,357.34 501.6,356.42 502.1,355.54 502.6,354.69 503.1,353.89 503.6,353.12 504.1,352.4 504.6,351.72 505.1,351.09 505.6,350.5 506.1,349.96 506.6,349.46 507.1,349.01 507.6,348.61 508.1,348.27 508.6,347.97 509.1,347.72 509.6,347.52 510.1,347.38 510.6,347.28 511.1,347.24 511.6,347.25 512.1,347.31 512.6,347.43 513.1,347.59 513.6,347.81 514.1,348.08 514.6,348.4 515.1,348.76 515.6,349.18 516.1,349.65 516.6,350.16 517.1,350.72 517.6,351.33 518.1,351.98 518.6,352.68 519.1,353.42 519.6,354.2 520.1,355.02 520.6,355.88 521.1,356.78 521.6,357.71 522.1,358.68 522.6,359.68 523.1,360.72 523.6,361.78 524.1,362.87 524.6,363.99 525.1,365.14 525.6,366.31 526.1,367.5 526.6,368.71 527.1,369.94 527.6,371.19 528.1,372.45 528.6,373.72 529.1,375.01 529.6,376.31 530.1,377.61 530.6,378.92 531.1,380.24 531.6,381.56 532.1,382.89 532.6,384.21 533.1,385.53 533.6,386.85 534.1,388.17 534.6,389.48 535.1,390.79 535.6,392.08 536.1,393.37 536.6,394.65 537.1,395.91 537.6,397.17 538.1,398.41 538.6,399.63 539.1,400.85 539.6,402.04 540.1,403.22 540.6,404.38 541.1,405.52 541.6,406.64 542.1,407.74 542.6,408.82 543.1,409.88 543.6,410.92 544.1,411.94 544.6,412.93 545.1,413.9 545.6,414.85 546.1,415.78 546.6,416.68 547.1,417.56 547.6,418.42 548.1,419.26 548.6,420.07 549.1,420.86 549.6,421.62 550.1,422.37 550.6,423.09 551.1,423.78 551.6,424.46 552.1,425.11 552.6,425.74 553.1,426.35 553.6,426.94 554.1,427.51 554.6,428.05 555.1,428.58 555.6,429.09 556.1,429.58 556.6,430.05 557.1,430.5 557.6,430.93 558.1,431.34 558.6,431.74 559.1,432.12 559.6,432.49 560.1,432.83 560.6,433.17 561.1,433.49 561.6,433.79 562.1,434.08 562.6,434.36 563.1,434.62 563.6,434.87 564.1,435.11 564.6,435.34 565.1,435.55 565.6,435.76 566.1,435.95 566.6,436.13 567.1,436.31 567.6,436.47 568.1,436.63 568.6,436.78 569.1,436.92 569.6,437.05 570.1,437.18 570.6,437.3 571.1,437.41 571.6,437.51 572.1,437.61 572.6,437.7 573.1,437.79 573.6,437.87 574.1,437.95 574.6,438.02 575.1,438.09 575.6,438.15 576.1,438.21 576.6,438.27 577.1,438.32 577.6,438.37 578.1,438.42 578.6,438.46 579.1,438.5 579.6,438.54 580.1,438.57 580.6,438.6 581.1,438.63 581.6,438.66 582.1,438.69 582.6,438.71 583.1,438.73 583.6,438.75 584.1,438.77 584.6,438.79 585.1,438.81 585.6,438.82 586.1,438.84 586.6,438.85 587.1,438.86 587.6,438.87 588.1,438.89 588.6,438.89 588.69,438.9" fill="none" stroke="#4d74bb" stroke-width="1.45" stroke-linejoin="round"/>
<line x1="511.5" y1="329.8" x2="511.5" y2="439" stroke="#000" stroke-width="1.25"/>
</g>
<rect x="423.4" y="329.8" width="176.1" height="109.2" fill="none" stroke="#9a9a9a" stroke-width="0.8"/>
<path d="M426.3 439v-1.6M426.3 329.8v1.6M434.8 439v-1.6M434.8 329.8v1.6M443.3 439v-2.8M443.3 329.8v2.8M451.8 439v-1.6M451.8 329.8v1.6M460.3 439v-1.6M460.3 329.8v1.6M468.8 439v-1.6M468.8 329.8v1.6M477.3 439v-2.8M477.3 329.8v2.8M485.8 439v-1.6M485.8 329.8v1.6M494.3 439v-1.6M494.3 329.8v1.6M502.8 439v-1.6M502.8 329.8v1.6M511.3 439v-2.8M511.3 329.8v2.8M519.8 439v-1.6M519.8 329.8v1.6M528.3 439v-1.6M528.3 329.8v1.6M536.8 439v-1.6M536.8 329.8v1.6M545.3 439v-2.8M545.3 329.8v2.8M553.8 439v-1.6M553.8 329.8v1.6M562.3 439v-1.6M562.3 329.8v1.6M570.8 439v-1.6M570.8 329.8v1.6M579.3 439v-2.8M579.3 329.8v2.8M587.8 439v-1.6M587.8 329.8v1.6M596.3 439v-1.6M596.3 329.8v1.6M423.4 439h2.6M599.5 439h-2.6M423.4 435.29h1.5M599.5 435.29h-1.5M423.4 431.57h1.5M599.5 431.57h-1.5M423.4 427.86h1.5M599.5 427.86h-1.5M423.4 424.14h2.6M599.5 424.14h-2.6M423.4 420.43h1.5M599.5 420.43h-1.5M423.4 416.71h1.5M599.5 416.71h-1.5M423.4 413h1.5M599.5 413h-1.5M423.4 409.28h2.6M599.5 409.28h-2.6M423.4 405.56h1.5M599.5 405.56h-1.5M423.4 401.85h1.5M599.5 401.85h-1.5M423.4 398.13h1.5M599.5 398.13h-1.5M423.4 394.42h2.6M599.5 394.42h-2.6M423.4 390.7h1.5M599.5 390.7h-1.5M423.4 386.99h1.5M599.5 386.99h-1.5M423.4 383.27h1.5M599.5 383.27h-1.5M423.4 379.56h2.6M599.5 379.56h-2.6M423.4 375.85h1.5M599.5 375.85h-1.5M423.4 372.13h1.5M599.5 372.13h-1.5M423.4 368.42h1.5M599.5 368.42h-1.5M423.4 364.7h2.6M599.5 364.7h-2.6M423.4 360.99h1.5M599.5 360.99h-1.5M423.4 357.27h1.5M599.5 357.27h-1.5M423.4 353.56h1.5M599.5 353.56h-1.5M423.4 349.84h2.6M599.5 349.84h-2.6M423.4 346.12h1.5M599.5 346.12h-1.5M423.4 342.41h1.5M599.5 342.41h-1.5M423.4 338.69h1.5M599.5 338.69h-1.5M423.4 334.98h2.6M599.5 334.98h-2.6M423.4 331.26h1.5M599.5 331.26h-1.5" stroke="#9a9a9a" stroke-width="0.7" fill="none"/>
<text x="435.98" y="448.8" text-anchor="middle" class="tl">-4</text>
<text x="473.64" y="448.8" text-anchor="middle" class="tl">-2</text>
<text x="511.3" y="448.8" text-anchor="middle" class="tl">0</text>
<text x="548.96" y="448.8" text-anchor="middle" class="tl">2</text>
<text x="586.62" y="448.8" text-anchor="middle" class="tl">4</text>
<text x="415.4" y="442.5" text-anchor="middle" class="tl">0</text>
<text x="415.4" y="427.64" text-anchor="middle" class="tl">20</text>
<text x="415.4" y="412.78" text-anchor="middle" class="tl">40</text>
<text x="415.4" y="397.92" text-anchor="middle" class="tl">60</text>
<text x="415.4" y="383.06" text-anchor="middle" class="tl">80</text>
<text x="415.4" y="368.2" text-anchor="middle" class="tl">100</text>
<text x="415.4" y="353.34" text-anchor="middle" class="tl">120</text>
<text x="415.4" y="338.48" text-anchor="middle" class="tl">140</text>
<text x="423.6" y="339.8" class="pl">(i)</text>
<text x="510.1" y="456.9" class="eps">ϵ</text>
<text x="514.1" y="459" class="sb">5</text>
<line x1="505.8" y1="460.8" x2="523" y2="460.8" stroke="#777" stroke-width="0.8"/>
<path d="M508.8 463.3L506.6 468.2L508.8 473.1M520 463.3L522.2 468.2L520 473.1" fill="none" stroke="#0a0a0a" stroke-width="0.7"/>
<text x="509.2" y="470.3" class="eps">δ</text>
<text x="514" y="472.6" class="sb">5</text>
<text x="572.7" y="462.26" text-anchor="middle" class="tm">×</text>
<text x="576.83" y="460.95" class="pw">10</text>
<line x1="588.3" y1="454.5" x2="593.7" y2="454.5" stroke="#0a0a0a" stroke-width="0.55"/>
<text x="593.77" y="456.8" class="sp">1</text>
    <line x1="529" y1="26.7" x2="540.3" y2="26.7" stroke="#4d74bb" stroke-width="1.3"/>
    <text x="543.3" y="30.7" class="lg" textLength="32.7" lengthAdjust="spacingAndGlyphs">Normal</text>
    <text x="543.3" y="43.3" class="lg" textLength="52" lengthAdjust="spacingAndGlyphs">distribution</text>
    <text x="543.3" y="56" class="lg" textLength="35.4" lengthAdjust="spacingAndGlyphs">for data</text>
    <text x="82" y="10" class="ti" textLength="46.7" lengthAdjust="spacingAndGlyphs">classical</text>
    <text x="272.5" y="9.7" class="ti" textLength="71.7" lengthAdjust="spacingAndGlyphs">semiclassical</text>
    <text x="486" y="8.7" class="ti" textLength="51.3" lengthAdjust="spacingAndGlyphs">quantum</text>
    </svg>
    </body></html>
